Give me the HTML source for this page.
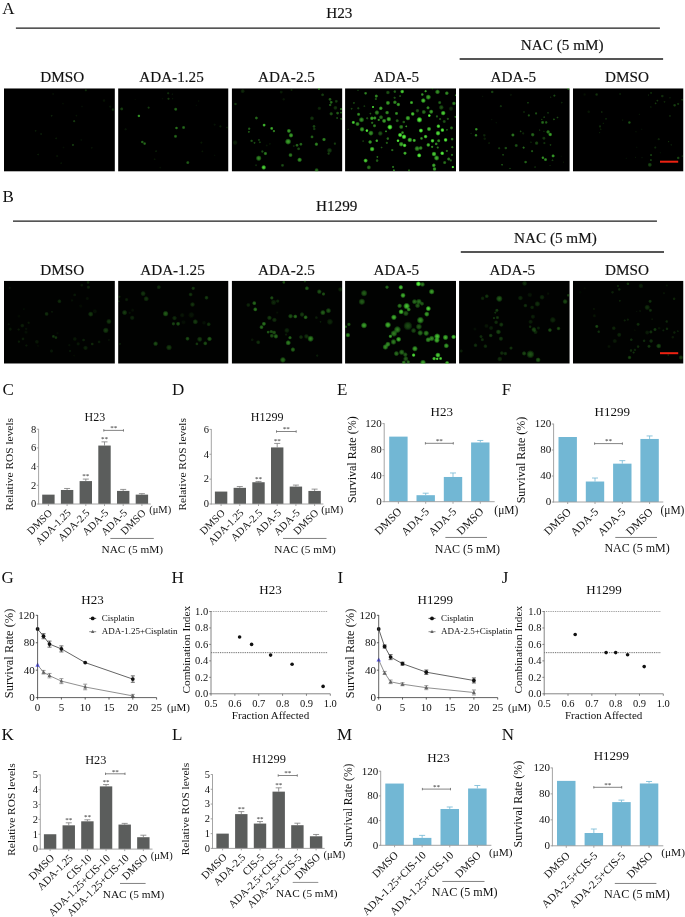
<!DOCTYPE html>
<html lang="en"><head><meta charset="utf-8"><title>Figure</title>
<style>html,body{margin:0;padding:0;background:#fff}svg{display:block}text{font-family:'Liberation Serif', 'Times New Roman', serif}.hd{stroke:#111;stroke-width:0.15px}</style>
</head><body>
<svg width="685" height="917" viewBox="0 0 685 917">
<defs><filter id="bl" x="-5%" y="-5%" width="110%" height="110%"><feGaussianBlur stdDeviation="0.5"/></filter><radialGradient id="g"><stop offset="0" stop-color="#6cff48"/><stop offset="0.5" stop-color="#48dc34" stop-opacity="0.92"/><stop offset="0.8" stop-color="#38c02a" stop-opacity="0.45"/><stop offset="1" stop-color="#2ca024" stop-opacity="0"/></radialGradient></defs>
<rect x="0.00" y="0.00" width="685.00" height="917.00" fill="#fff"/>
<text x="2.20" y="13.90" font-size="17" text-anchor="start" fill="#111">A</text>
<text x="2.40" y="202.40" font-size="17" text-anchor="start" fill="#111">B</text>
<text x="2.40" y="395.40" font-size="17" text-anchor="start" fill="#111">C</text>
<text x="171.90" y="395.40" font-size="17" text-anchor="start" fill="#111">D</text>
<text x="336.90" y="395.40" font-size="17" text-anchor="start" fill="#111">E</text>
<text x="501.70" y="395.40" font-size="17" text-anchor="start" fill="#111">F</text>
<text x="1.40" y="583.40" font-size="17" text-anchor="start" fill="#111">G</text>
<text x="171.40" y="583.40" font-size="17" text-anchor="start" fill="#111">H</text>
<text x="337.40" y="583.40" font-size="17" text-anchor="start" fill="#111">I</text>
<text x="501.70" y="583.40" font-size="17" text-anchor="start" fill="#111">J</text>
<text x="1.40" y="739.70" font-size="17" text-anchor="start" fill="#111">K</text>
<text x="172.10" y="739.70" font-size="17" text-anchor="start" fill="#111">L</text>
<text x="337.00" y="739.70" font-size="17" text-anchor="start" fill="#111">M</text>
<text x="501.70" y="739.70" font-size="17" text-anchor="start" fill="#111">N</text>
<text x="339.30" y="18.10" font-size="15.2" text-anchor="middle" fill="#111" class="hd">H23</text>
<line x1="15.90" y1="28.10" x2="659.90" y2="28.10" stroke="#1c1c1c" stroke-width="1.3"/>
<text x="562.20" y="49.50" font-size="15.2" text-anchor="middle" fill="#111" class="hd">NAC (5 mM)</text>
<line x1="459.65" y1="59.00" x2="663.10" y2="59.00" stroke="#1c1c1c" stroke-width="1.5"/>
<text x="62.20" y="82.00" font-size="15.2" text-anchor="middle" fill="#111" class="hd">DMSO</text>
<text x="171.50" y="82.00" font-size="15.2" text-anchor="middle" fill="#111" class="hd">ADA-1.25</text>
<text x="286.40" y="82.00" font-size="15.2" text-anchor="middle" fill="#111" class="hd">ADA-2.5</text>
<text x="396.40" y="82.00" font-size="15.2" text-anchor="middle" fill="#111" class="hd">ADA-5</text>
<text x="513.30" y="82.00" font-size="15.2" text-anchor="middle" fill="#111" class="hd">ADA-5</text>
<text x="627.00" y="82.00" font-size="15.2" text-anchor="middle" fill="#111" class="hd">DMSO</text>
<text x="336.70" y="210.90" font-size="15.2" text-anchor="middle" fill="#111" class="hd">H1299</text>
<line x1="13.00" y1="221.15" x2="656.95" y2="221.15" stroke="#1c1c1c" stroke-width="1.3"/>
<text x="555.40" y="243.10" font-size="15.2" text-anchor="middle" fill="#111" class="hd">NAC (5 mM)</text>
<line x1="460.80" y1="251.90" x2="664.00" y2="251.90" stroke="#1c1c1c" stroke-width="1.5"/>
<text x="62.20" y="274.50" font-size="15.2" text-anchor="middle" fill="#111" class="hd">DMSO</text>
<text x="172.50" y="274.50" font-size="15.2" text-anchor="middle" fill="#111" class="hd">ADA-1.25</text>
<text x="286.40" y="274.50" font-size="15.2" text-anchor="middle" fill="#111" class="hd">ADA-2.5</text>
<text x="396.40" y="274.50" font-size="15.2" text-anchor="middle" fill="#111" class="hd">ADA-5</text>
<text x="512.30" y="274.50" font-size="15.2" text-anchor="middle" fill="#111" class="hd">ADA-5</text>
<text x="627.00" y="274.50" font-size="15.2" text-anchor="middle" fill="#111" class="hd">DMSO</text>
<svg x="4.00" y="88.30" width="110.90" height="83.30" viewBox="4.00 88.30 110.90 83.30" overflow="hidden">
<rect x="4.00" y="88.30" width="110.90" height="83.30" fill="#000"/>
<g filter="url(#bl)">
<circle cx="85.8" cy="90.3" r="1.53" fill="url(#g)" fill-opacity="0.17"/>
<circle cx="112.9" cy="109.6" r="1.75" fill="url(#g)" fill-opacity="0.17"/>
<circle cx="74.2" cy="121.2" r="1.53" fill="url(#g)" fill-opacity="0.24"/>
<circle cx="72.9" cy="144.9" r="1.53" fill="url(#g)" fill-opacity="0.24"/>
<circle cx="51.6" cy="115.7" r="1.31" fill="url(#g)" fill-opacity="0.14"/>
<circle cx="35.6" cy="130.8" r="1.31" fill="url(#g)" fill-opacity="0.11"/>
<circle cx="41.1" cy="134.0" r="1.31" fill="url(#g)" fill-opacity="0.11"/>
<circle cx="56.2" cy="138.4" r="1.31" fill="url(#g)" fill-opacity="0.11"/>
<circle cx="38.2" cy="154.5" r="1.31" fill="url(#g)" fill-opacity="0.11"/>
<circle cx="57.2" cy="156.1" r="1.53" fill="url(#g)" fill-opacity="0.08"/>
<circle cx="61.2" cy="163.2" r="1.31" fill="url(#g)" fill-opacity="0.08"/>
<circle cx="91.7" cy="147.8" r="1.31" fill="url(#g)" fill-opacity="0.08"/>
<circle cx="81.3" cy="139.9" r="1.31" fill="url(#g)" fill-opacity="0.06"/>
<circle cx="104.0" cy="100.6" r="1.75" fill="url(#g)" fill-opacity="0.08"/>
<circle cx="110.2" cy="106.6" r="1.53" fill="url(#g)" fill-opacity="0.08"/>
<circle cx="53.1" cy="94.0" r="1.31" fill="url(#g)" fill-opacity="0.06"/>
<circle cx="76.4" cy="115.6" r="1.31" fill="url(#g)" fill-opacity="0.08"/>
<circle cx="82.0" cy="106.5" r="1.31" fill="url(#g)" fill-opacity="0.05"/>
<circle cx="63.0" cy="103.6" r="1.31" fill="url(#g)" fill-opacity="0.05"/>
<circle cx="63.5" cy="147.5" r="1.31" fill="url(#g)" fill-opacity="0.05"/>
</g>
</svg>
<svg x="118.10" y="88.30" width="110.40" height="83.30" viewBox="118.10 88.30 110.40 83.30" overflow="hidden">
<rect x="118.10" y="88.30" width="110.40" height="83.30" fill="#000"/>
<g filter="url(#bl)">
<circle cx="138.9" cy="115.9" r="1.75" fill="url(#g)" fill-opacity="0.64"/>
<circle cx="175.7" cy="109.2" r="1.97" fill="url(#g)" fill-opacity="0.41"/>
<circle cx="176.5" cy="128.0" r="1.75" fill="url(#g)" fill-opacity="0.49"/>
<circle cx="183.6" cy="127.5" r="1.97" fill="url(#g)" fill-opacity="0.41"/>
<circle cx="175.5" cy="136.3" r="1.97" fill="url(#g)" fill-opacity="0.41"/>
<circle cx="142.3" cy="142.0" r="1.75" fill="url(#g)" fill-opacity="0.41"/>
<circle cx="144.6" cy="143.6" r="1.75" fill="url(#g)" fill-opacity="0.41"/>
<circle cx="187.8" cy="162.6" r="1.97" fill="url(#g)" fill-opacity="0.37"/>
<circle cx="121.7" cy="108.9" r="1.97" fill="url(#g)" fill-opacity="0.26"/>
<circle cx="148.6" cy="107.6" r="1.53" fill="url(#g)" fill-opacity="0.23"/>
<circle cx="168.2" cy="93.3" r="1.53" fill="url(#g)" fill-opacity="0.19"/>
<circle cx="168.5" cy="98.7" r="1.53" fill="url(#g)" fill-opacity="0.23"/>
<circle cx="172.3" cy="94.2" r="1.09" fill="url(#g)" fill-opacity="0.09"/>
<circle cx="172.6" cy="98.7" r="1.09" fill="url(#g)" fill-opacity="0.09"/>
<circle cx="156.1" cy="151.2" r="1.31" fill="url(#g)" fill-opacity="0.12"/>
<circle cx="154.6" cy="159.3" r="1.31" fill="url(#g)" fill-opacity="0.09"/>
<circle cx="201.4" cy="142.6" r="1.53" fill="url(#g)" fill-opacity="0.09"/>
<circle cx="202.4" cy="151.4" r="1.31" fill="url(#g)" fill-opacity="0.09"/>
<circle cx="220.4" cy="126.4" r="1.53" fill="url(#g)" fill-opacity="0.12"/>
<circle cx="214.6" cy="124.6" r="1.53" fill="url(#g)" fill-opacity="0.07"/>
<circle cx="227.0" cy="127.5" r="1.31" fill="url(#g)" fill-opacity="0.12"/>
<circle cx="125.6" cy="129.3" r="1.53" fill="url(#g)" fill-opacity="0.09"/>
<circle cx="214.7" cy="155.3" r="1.09" fill="url(#g)" fill-opacity="0.06"/>
<circle cx="160.3" cy="167.6" r="1.31" fill="url(#g)" fill-opacity="0.06"/>
<circle cx="196.3" cy="105.3" r="1.09" fill="url(#g)" fill-opacity="0.06"/>
<circle cx="198.7" cy="101.0" r="1.09" fill="url(#g)" fill-opacity="0.06"/>
<circle cx="135.2" cy="99.5" r="1.09" fill="url(#g)" fill-opacity="0.04"/>
<circle cx="162.5" cy="98.7" r="1.09" fill="url(#g)" fill-opacity="0.06"/>
</g>
</svg>
<svg x="231.70" y="88.30" width="110.70" height="83.30" viewBox="231.70 88.30 110.70 83.30" overflow="hidden">
<rect x="231.70" y="88.30" width="110.70" height="83.30" fill="#000"/>
<g filter="url(#bl)">
<circle cx="264.1" cy="125.1" r="1.89" fill="url(#g)" fill-opacity="0.79"/>
<circle cx="271.7" cy="128.4" r="1.89" fill="url(#g)" fill-opacity="0.69"/>
<circle cx="273.9" cy="131.1" r="1.65" fill="url(#g)" fill-opacity="0.54"/>
<circle cx="256.4" cy="118.0" r="1.89" fill="url(#g)" fill-opacity="0.44"/>
<circle cx="249.2" cy="128.7" r="1.65" fill="url(#g)" fill-opacity="0.39"/>
<circle cx="248.8" cy="131.8" r="1.42" fill="url(#g)" fill-opacity="0.35"/>
<circle cx="288.9" cy="130.9" r="2.36" fill="url(#g)" fill-opacity="0.64"/>
<circle cx="291.0" cy="135.3" r="2.60" fill="url(#g)" fill-opacity="0.64"/>
<circle cx="288.1" cy="141.6" r="3.31" fill="url(#g)" fill-opacity="0.64"/>
<circle cx="297.0" cy="145.2" r="1.89" fill="url(#g)" fill-opacity="0.44"/>
<circle cx="300.9" cy="144.2" r="1.89" fill="url(#g)" fill-opacity="0.44"/>
<circle cx="298.6" cy="148.8" r="1.89" fill="url(#g)" fill-opacity="0.30"/>
<circle cx="290.5" cy="155.1" r="2.36" fill="url(#g)" fill-opacity="0.49"/>
<circle cx="299.6" cy="159.8" r="2.60" fill="url(#g)" fill-opacity="0.59"/>
<circle cx="263.7" cy="167.4" r="2.60" fill="url(#g)" fill-opacity="0.85"/>
<circle cx="258.7" cy="158.2" r="3.07" fill="url(#g)" fill-opacity="0.54"/>
<circle cx="265.4" cy="153.5" r="2.13" fill="url(#g)" fill-opacity="0.49"/>
<circle cx="262.4" cy="151.5" r="1.65" fill="url(#g)" fill-opacity="0.30"/>
<circle cx="251.6" cy="140.8" r="1.65" fill="url(#g)" fill-opacity="0.35"/>
<circle cx="254.5" cy="142.8" r="1.42" fill="url(#g)" fill-opacity="0.30"/>
<circle cx="258.9" cy="139.9" r="1.42" fill="url(#g)" fill-opacity="0.25"/>
<circle cx="259.8" cy="142.3" r="1.42" fill="url(#g)" fill-opacity="0.25"/>
<circle cx="282.5" cy="165.3" r="1.89" fill="url(#g)" fill-opacity="0.30"/>
<circle cx="312.0" cy="136.9" r="1.89" fill="url(#g)" fill-opacity="0.44"/>
<circle cx="316.4" cy="144.2" r="2.13" fill="url(#g)" fill-opacity="0.54"/>
<circle cx="324.0" cy="139.5" r="2.13" fill="url(#g)" fill-opacity="0.54"/>
<circle cx="314.0" cy="126.4" r="1.89" fill="url(#g)" fill-opacity="0.30"/>
<circle cx="314.3" cy="129.0" r="1.65" fill="url(#g)" fill-opacity="0.25"/>
<circle cx="312.0" cy="118.3" r="2.36" fill="url(#g)" fill-opacity="0.21"/>
<circle cx="330.0" cy="99.3" r="1.89" fill="url(#g)" fill-opacity="0.39"/>
<circle cx="331.2" cy="102.3" r="1.89" fill="url(#g)" fill-opacity="0.44"/>
<circle cx="330.2" cy="105.0" r="1.65" fill="url(#g)" fill-opacity="0.39"/>
<circle cx="322.6" cy="94.8" r="1.89" fill="url(#g)" fill-opacity="0.25"/>
<circle cx="319.0" cy="88.6" r="1.65" fill="url(#g)" fill-opacity="0.54"/>
<circle cx="336.3" cy="101.3" r="1.89" fill="url(#g)" fill-opacity="0.25"/>
<circle cx="331.2" cy="113.8" r="2.13" fill="url(#g)" fill-opacity="0.35"/>
<circle cx="337.6" cy="113.1" r="1.89" fill="url(#g)" fill-opacity="0.39"/>
<circle cx="341.0" cy="109.1" r="1.65" fill="url(#g)" fill-opacity="0.44"/>
<circle cx="341.0" cy="112.6" r="1.42" fill="url(#g)" fill-opacity="0.39"/>
<circle cx="337.2" cy="118.0" r="1.42" fill="url(#g)" fill-opacity="0.30"/>
<circle cx="341.2" cy="118.8" r="1.42" fill="url(#g)" fill-opacity="0.30"/>
<circle cx="335.4" cy="107.8" r="2.36" fill="url(#g)" fill-opacity="0.21"/>
<circle cx="319.3" cy="108.3" r="2.13" fill="url(#g)" fill-opacity="0.16"/>
<circle cx="334.9" cy="143.6" r="1.65" fill="url(#g)" fill-opacity="0.25"/>
<circle cx="329.5" cy="150.4" r="2.84" fill="url(#g)" fill-opacity="0.25"/>
<circle cx="328.6" cy="153.6" r="1.65" fill="url(#g)" fill-opacity="0.25"/>
<circle cx="316.6" cy="170.2" r="2.36" fill="url(#g)" fill-opacity="0.44"/>
<circle cx="235.5" cy="104.0" r="1.65" fill="url(#g)" fill-opacity="0.25"/>
<circle cx="242.7" cy="91.2" r="2.36" fill="url(#g)" fill-opacity="0.16"/>
<circle cx="235.1" cy="142.6" r="2.84" fill="url(#g)" fill-opacity="0.12"/>
<circle cx="256.1" cy="165.3" r="1.42" fill="url(#g)" fill-opacity="0.16"/>
<circle cx="281.2" cy="92.1" r="1.89" fill="url(#g)" fill-opacity="0.12"/>
<circle cx="291.5" cy="89.9" r="1.42" fill="url(#g)" fill-opacity="0.16"/>
<circle cx="283.7" cy="99.3" r="1.65" fill="url(#g)" fill-opacity="0.09"/>
<circle cx="293.7" cy="146.0" r="1.42" fill="url(#g)" fill-opacity="0.16"/>
<circle cx="266.7" cy="145.5" r="1.42" fill="url(#g)" fill-opacity="0.08"/>
<circle cx="269.9" cy="143.9" r="1.18" fill="url(#g)" fill-opacity="0.08"/>
</g>
</svg>
<svg x="345.05" y="88.30" width="110.95" height="83.30" viewBox="345.05 88.30 110.95 83.30" overflow="hidden">
<rect x="345.05" y="88.30" width="110.95" height="83.30" fill="#000"/>
<g filter="url(#bl)">
<circle cx="365.6" cy="93.3" r="1.79" fill="url(#g)" fill-opacity="0.52"/>
<circle cx="376.3" cy="96.1" r="2.01" fill="url(#g)" fill-opacity="0.58"/>
<circle cx="375.8" cy="99.0" r="1.56" fill="url(#g)" fill-opacity="0.33"/>
<circle cx="387.9" cy="92.5" r="2.23" fill="url(#g)" fill-opacity="0.33"/>
<circle cx="394.8" cy="91.6" r="1.79" fill="url(#g)" fill-opacity="0.39"/>
<circle cx="402.2" cy="91.6" r="2.23" fill="url(#g)" fill-opacity="0.84"/>
<circle cx="394.6" cy="97.7" r="1.56" fill="url(#g)" fill-opacity="0.33"/>
<circle cx="400.1" cy="96.1" r="1.34" fill="url(#g)" fill-opacity="0.33"/>
<circle cx="387.9" cy="102.9" r="2.45" fill="url(#g)" fill-opacity="0.65"/>
<circle cx="394.9" cy="102.3" r="2.23" fill="url(#g)" fill-opacity="0.58"/>
<circle cx="398.3" cy="104.5" r="2.23" fill="url(#g)" fill-opacity="0.65"/>
<circle cx="411.5" cy="102.6" r="2.01" fill="url(#g)" fill-opacity="0.71"/>
<circle cx="373.0" cy="107.0" r="1.56" fill="url(#g)" fill-opacity="0.84"/>
<circle cx="380.8" cy="108.3" r="2.23" fill="url(#g)" fill-opacity="0.71"/>
<circle cx="358.6" cy="114.3" r="2.01" fill="url(#g)" fill-opacity="0.58"/>
<circle cx="370.4" cy="113.6" r="1.34" fill="url(#g)" fill-opacity="0.33"/>
<circle cx="376.9" cy="112.6" r="2.68" fill="url(#g)" fill-opacity="0.52"/>
<circle cx="387.1" cy="112.6" r="2.23" fill="url(#g)" fill-opacity="0.58"/>
<circle cx="396.5" cy="113.4" r="2.01" fill="url(#g)" fill-opacity="0.58"/>
<circle cx="371.9" cy="118.3" r="2.23" fill="url(#g)" fill-opacity="0.71"/>
<circle cx="374.8" cy="118.0" r="2.01" fill="url(#g)" fill-opacity="0.65"/>
<circle cx="381.0" cy="117.3" r="2.45" fill="url(#g)" fill-opacity="0.46"/>
<circle cx="378.7" cy="119.9" r="1.56" fill="url(#g)" fill-opacity="0.58"/>
<circle cx="384.1" cy="120.9" r="2.45" fill="url(#g)" fill-opacity="0.65"/>
<circle cx="388.8" cy="119.1" r="2.68" fill="url(#g)" fill-opacity="0.71"/>
<circle cx="361.5" cy="119.8" r="2.90" fill="url(#g)" fill-opacity="0.58"/>
<circle cx="353.3" cy="122.4" r="2.01" fill="url(#g)" fill-opacity="0.84"/>
<circle cx="357.5" cy="124.0" r="2.45" fill="url(#g)" fill-opacity="0.58"/>
<circle cx="372.2" cy="122.7" r="1.56" fill="url(#g)" fill-opacity="0.46"/>
<circle cx="374.5" cy="125.8" r="2.01" fill="url(#g)" fill-opacity="0.52"/>
<circle cx="362.0" cy="129.3" r="2.68" fill="url(#g)" fill-opacity="0.65"/>
<circle cx="366.9" cy="130.6" r="1.79" fill="url(#g)" fill-opacity="1.00"/>
<circle cx="370.9" cy="133.1" r="2.90" fill="url(#g)" fill-opacity="0.58"/>
<circle cx="380.3" cy="133.4" r="2.68" fill="url(#g)" fill-opacity="0.33"/>
<circle cx="386.0" cy="131.4" r="1.34" fill="url(#g)" fill-opacity="0.58"/>
<circle cx="389.9" cy="127.1" r="2.90" fill="url(#g)" fill-opacity="1.00"/>
<circle cx="397.2" cy="120.7" r="2.01" fill="url(#g)" fill-opacity="0.39"/>
<circle cx="403.8" cy="122.0" r="1.79" fill="url(#g)" fill-opacity="0.39"/>
<circle cx="407.9" cy="118.1" r="2.68" fill="url(#g)" fill-opacity="0.71"/>
<circle cx="412.7" cy="113.9" r="2.23" fill="url(#g)" fill-opacity="0.84"/>
<circle cx="419.4" cy="119.8" r="3.12" fill="url(#g)" fill-opacity="0.98"/>
<circle cx="401.2" cy="126.9" r="2.45" fill="url(#g)" fill-opacity="0.52"/>
<circle cx="406.3" cy="126.4" r="1.34" fill="url(#g)" fill-opacity="0.58"/>
<circle cx="400.1" cy="135.0" r="2.45" fill="url(#g)" fill-opacity="1.00"/>
<circle cx="404.0" cy="136.8" r="2.68" fill="url(#g)" fill-opacity="1.00"/>
<circle cx="402.5" cy="132.6" r="1.79" fill="url(#g)" fill-opacity="0.58"/>
<circle cx="398.0" cy="140.7" r="1.79" fill="url(#g)" fill-opacity="1.00"/>
<circle cx="401.2" cy="144.2" r="2.68" fill="url(#g)" fill-opacity="0.71"/>
<circle cx="404.6" cy="145.4" r="2.23" fill="url(#g)" fill-opacity="0.91"/>
<circle cx="409.8" cy="139.9" r="2.68" fill="url(#g)" fill-opacity="0.78"/>
<circle cx="414.2" cy="140.4" r="2.01" fill="url(#g)" fill-opacity="0.78"/>
<circle cx="420.9" cy="130.6" r="2.45" fill="url(#g)" fill-opacity="1.00"/>
<circle cx="421.5" cy="138.4" r="1.79" fill="url(#g)" fill-opacity="0.58"/>
<circle cx="425.6" cy="136.6" r="2.23" fill="url(#g)" fill-opacity="0.84"/>
<circle cx="429.0" cy="129.0" r="2.45" fill="url(#g)" fill-opacity="0.78"/>
<circle cx="438.4" cy="126.2" r="2.23" fill="url(#g)" fill-opacity="0.91"/>
<circle cx="442.4" cy="130.1" r="2.23" fill="url(#g)" fill-opacity="0.98"/>
<circle cx="438.0" cy="133.2" r="2.68" fill="url(#g)" fill-opacity="0.91"/>
<circle cx="432.5" cy="140.8" r="2.23" fill="url(#g)" fill-opacity="0.91"/>
<circle cx="438.7" cy="140.8" r="2.01" fill="url(#g)" fill-opacity="0.58"/>
<circle cx="445.6" cy="139.9" r="2.23" fill="url(#g)" fill-opacity="0.98"/>
<circle cx="452.1" cy="139.1" r="1.79" fill="url(#g)" fill-opacity="0.52"/>
<circle cx="428.3" cy="144.9" r="2.23" fill="url(#g)" fill-opacity="0.78"/>
<circle cx="432.2" cy="146.8" r="1.56" fill="url(#g)" fill-opacity="0.58"/>
<circle cx="436.2" cy="143.9" r="1.79" fill="url(#g)" fill-opacity="0.58"/>
<circle cx="437.7" cy="147.5" r="1.56" fill="url(#g)" fill-opacity="0.46"/>
<circle cx="417.1" cy="148.6" r="2.90" fill="url(#g)" fill-opacity="0.58"/>
<circle cx="420.7" cy="148.0" r="2.23" fill="url(#g)" fill-opacity="0.58"/>
<circle cx="405.0" cy="153.2" r="2.01" fill="url(#g)" fill-opacity="0.78"/>
<circle cx="419.2" cy="155.4" r="2.45" fill="url(#g)" fill-opacity="1.00"/>
<circle cx="434.0" cy="154.0" r="2.68" fill="url(#g)" fill-opacity="0.84"/>
<circle cx="436.6" cy="158.0" r="2.90" fill="url(#g)" fill-opacity="0.71"/>
<circle cx="442.2" cy="153.3" r="2.23" fill="url(#g)" fill-opacity="1.00"/>
<circle cx="446.8" cy="150.9" r="1.56" fill="url(#g)" fill-opacity="0.46"/>
<circle cx="452.3" cy="147.2" r="1.56" fill="url(#g)" fill-opacity="0.46"/>
<circle cx="452.0" cy="154.8" r="1.56" fill="url(#g)" fill-opacity="0.46"/>
<circle cx="448.7" cy="159.0" r="2.01" fill="url(#g)" fill-opacity="0.52"/>
<circle cx="450.8" cy="160.4" r="1.56" fill="url(#g)" fill-opacity="0.39"/>
<circle cx="444.7" cy="162.6" r="2.01" fill="url(#g)" fill-opacity="0.46"/>
<circle cx="452.8" cy="167.1" r="1.56" fill="url(#g)" fill-opacity="1.00"/>
<circle cx="433.8" cy="165.3" r="2.23" fill="url(#g)" fill-opacity="0.71"/>
<circle cx="434.5" cy="169.0" r="2.23" fill="url(#g)" fill-opacity="0.65"/>
<circle cx="372.1" cy="149.1" r="2.68" fill="url(#g)" fill-opacity="0.84"/>
<circle cx="370.1" cy="142.0" r="2.23" fill="url(#g)" fill-opacity="0.65"/>
<circle cx="376.8" cy="140.7" r="1.79" fill="url(#g)" fill-opacity="0.71"/>
<circle cx="387.8" cy="138.6" r="1.79" fill="url(#g)" fill-opacity="0.46"/>
<circle cx="386.8" cy="142.8" r="1.56" fill="url(#g)" fill-opacity="0.39"/>
<circle cx="381.6" cy="147.5" r="1.34" fill="url(#g)" fill-opacity="0.33"/>
<circle cx="392.3" cy="150.1" r="1.56" fill="url(#g)" fill-opacity="0.46"/>
<circle cx="377.4" cy="156.9" r="1.34" fill="url(#g)" fill-opacity="0.46"/>
<circle cx="377.1" cy="160.6" r="1.79" fill="url(#g)" fill-opacity="0.39"/>
<circle cx="365.6" cy="160.6" r="2.45" fill="url(#g)" fill-opacity="0.84"/>
<circle cx="368.8" cy="167.4" r="2.45" fill="url(#g)" fill-opacity="0.46"/>
<circle cx="393.1" cy="166.9" r="1.56" fill="url(#g)" fill-opacity="0.46"/>
<circle cx="393.9" cy="170.3" r="1.34" fill="url(#g)" fill-opacity="0.58"/>
<circle cx="409.0" cy="170.3" r="1.34" fill="url(#g)" fill-opacity="0.46"/>
<circle cx="425.6" cy="91.2" r="1.56" fill="url(#g)" fill-opacity="0.65"/>
<circle cx="422.3" cy="94.5" r="1.79" fill="url(#g)" fill-opacity="0.58"/>
<circle cx="428.3" cy="97.1" r="2.90" fill="url(#g)" fill-opacity="0.65"/>
<circle cx="423.3" cy="100.6" r="2.68" fill="url(#g)" fill-opacity="0.78"/>
<circle cx="437.5" cy="91.9" r="2.68" fill="url(#g)" fill-opacity="0.58"/>
<circle cx="446.8" cy="93.2" r="2.23" fill="url(#g)" fill-opacity="0.58"/>
<circle cx="456.0" cy="95.3" r="1.34" fill="url(#g)" fill-opacity="0.58"/>
<circle cx="453.9" cy="103.4" r="2.23" fill="url(#g)" fill-opacity="0.52"/>
<circle cx="439.7" cy="102.6" r="2.01" fill="url(#g)" fill-opacity="0.39"/>
<circle cx="441.3" cy="107.4" r="2.68" fill="url(#g)" fill-opacity="0.33"/>
<circle cx="428.0" cy="107.8" r="2.01" fill="url(#g)" fill-opacity="0.58"/>
<circle cx="431.2" cy="111.7" r="2.45" fill="url(#g)" fill-opacity="0.65"/>
<circle cx="429.3" cy="115.6" r="1.79" fill="url(#g)" fill-opacity="1.00"/>
<circle cx="423.8" cy="112.0" r="2.45" fill="url(#g)" fill-opacity="0.46"/>
<circle cx="417.4" cy="110.7" r="2.23" fill="url(#g)" fill-opacity="0.33"/>
<circle cx="443.2" cy="113.1" r="2.68" fill="url(#g)" fill-opacity="0.84"/>
<circle cx="436.9" cy="116.4" r="1.56" fill="url(#g)" fill-opacity="0.39"/>
<circle cx="440.1" cy="119.1" r="1.56" fill="url(#g)" fill-opacity="0.33"/>
<circle cx="444.2" cy="121.5" r="2.01" fill="url(#g)" fill-opacity="0.33"/>
<circle cx="447.8" cy="118.8" r="1.56" fill="url(#g)" fill-opacity="0.33"/>
<circle cx="455.4" cy="116.8" r="1.34" fill="url(#g)" fill-opacity="0.46"/>
<circle cx="451.5" cy="127.9" r="2.01" fill="url(#g)" fill-opacity="0.46"/>
<circle cx="446.9" cy="129.8" r="1.34" fill="url(#g)" fill-opacity="0.33"/>
<circle cx="451.0" cy="108.7" r="2.68" fill="url(#g)" fill-opacity="0.16"/>
<circle cx="351.6" cy="108.7" r="1.34" fill="url(#g)" fill-opacity="0.27"/>
<circle cx="353.9" cy="102.9" r="1.34" fill="url(#g)" fill-opacity="0.27"/>
<circle cx="358.3" cy="108.3" r="1.56" fill="url(#g)" fill-opacity="0.27"/>
<circle cx="364.4" cy="106.2" r="1.34" fill="url(#g)" fill-opacity="0.21"/>
<circle cx="363.2" cy="141.2" r="1.34" fill="url(#g)" fill-opacity="0.21"/>
<circle cx="367.2" cy="118.3" r="1.56" fill="url(#g)" fill-opacity="0.33"/>
<circle cx="348.2" cy="129.3" r="1.12" fill="url(#g)" fill-opacity="0.21"/>
<circle cx="432.2" cy="88.6" r="1.12" fill="url(#g)" fill-opacity="0.46"/>
<circle cx="358.0" cy="90.3" r="1.12" fill="url(#g)" fill-opacity="0.21"/>
</g>
</svg>
<svg x="459.05" y="88.30" width="110.70" height="83.30" viewBox="459.05 88.30 110.70 83.30" overflow="hidden">
<rect x="459.05" y="88.30" width="110.70" height="83.30" fill="#000"/>
<g filter="url(#bl)">
<circle cx="476.3" cy="129.3" r="1.75" fill="url(#g)" fill-opacity="0.61"/>
<circle cx="476.0" cy="135.3" r="1.75" fill="url(#g)" fill-opacity="0.56"/>
<circle cx="512.9" cy="135.0" r="1.97" fill="url(#g)" fill-opacity="0.51"/>
<circle cx="532.7" cy="134.7" r="2.19" fill="url(#g)" fill-opacity="0.42"/>
<circle cx="548.1" cy="131.9" r="2.19" fill="url(#g)" fill-opacity="0.51"/>
<circle cx="550.2" cy="134.5" r="2.19" fill="url(#g)" fill-opacity="0.66"/>
<circle cx="542.6" cy="122.4" r="1.97" fill="url(#g)" fill-opacity="0.42"/>
<circle cx="546.2" cy="122.4" r="1.75" fill="url(#g)" fill-opacity="0.37"/>
<circle cx="542.9" cy="157.7" r="1.75" fill="url(#g)" fill-opacity="0.61"/>
<circle cx="545.5" cy="159.6" r="1.97" fill="url(#g)" fill-opacity="0.56"/>
<circle cx="553.1" cy="155.9" r="1.97" fill="url(#g)" fill-opacity="0.66"/>
<circle cx="525.6" cy="162.1" r="1.75" fill="url(#g)" fill-opacity="0.42"/>
<circle cx="516.2" cy="145.5" r="1.97" fill="url(#g)" fill-opacity="0.33"/>
<circle cx="523.6" cy="147.6" r="1.53" fill="url(#g)" fill-opacity="0.42"/>
<circle cx="532.1" cy="151.2" r="1.53" fill="url(#g)" fill-opacity="0.37"/>
<circle cx="536.6" cy="143.1" r="2.19" fill="url(#g)" fill-opacity="0.28"/>
<circle cx="543.9" cy="138.2" r="1.97" fill="url(#g)" fill-opacity="0.24"/>
<circle cx="544.4" cy="143.1" r="1.53" fill="url(#g)" fill-opacity="0.20"/>
<circle cx="550.5" cy="144.9" r="1.31" fill="url(#g)" fill-opacity="0.24"/>
<circle cx="505.8" cy="148.1" r="1.75" fill="url(#g)" fill-opacity="0.33"/>
<circle cx="499.2" cy="148.3" r="1.53" fill="url(#g)" fill-opacity="0.24"/>
<circle cx="503.1" cy="154.8" r="1.31" fill="url(#g)" fill-opacity="0.28"/>
<circle cx="502.1" cy="164.7" r="1.31" fill="url(#g)" fill-opacity="0.33"/>
<circle cx="510.0" cy="168.4" r="1.09" fill="url(#g)" fill-opacity="0.24"/>
<circle cx="535.1" cy="167.1" r="1.31" fill="url(#g)" fill-opacity="0.15"/>
<circle cx="552.5" cy="160.3" r="1.31" fill="url(#g)" fill-opacity="0.24"/>
<circle cx="492.2" cy="91.9" r="1.75" fill="url(#g)" fill-opacity="0.28"/>
<circle cx="500.8" cy="106.2" r="1.53" fill="url(#g)" fill-opacity="0.20"/>
<circle cx="527.9" cy="102.7" r="1.31" fill="url(#g)" fill-opacity="0.24"/>
<circle cx="524.0" cy="112.0" r="1.09" fill="url(#g)" fill-opacity="0.24"/>
<circle cx="528.8" cy="115.4" r="1.53" fill="url(#g)" fill-opacity="0.33"/>
<circle cx="536.1" cy="113.4" r="1.53" fill="url(#g)" fill-opacity="0.33"/>
<circle cx="548.0" cy="112.8" r="1.31" fill="url(#g)" fill-opacity="0.20"/>
<circle cx="544.2" cy="117.2" r="1.31" fill="url(#g)" fill-opacity="0.24"/>
<circle cx="541.8" cy="119.4" r="1.09" fill="url(#g)" fill-opacity="0.24"/>
<circle cx="553.9" cy="119.4" r="1.31" fill="url(#g)" fill-opacity="0.33"/>
<circle cx="557.5" cy="117.5" r="1.31" fill="url(#g)" fill-opacity="0.28"/>
<circle cx="554.4" cy="95.6" r="1.53" fill="url(#g)" fill-opacity="0.28"/>
<circle cx="550.7" cy="97.2" r="1.09" fill="url(#g)" fill-opacity="0.15"/>
<circle cx="561.7" cy="102.6" r="1.31" fill="url(#g)" fill-opacity="0.15"/>
<circle cx="520.6" cy="131.4" r="1.31" fill="url(#g)" fill-opacity="0.28"/>
<circle cx="523.2" cy="133.4" r="1.53" fill="url(#g)" fill-opacity="0.15"/>
<circle cx="539.7" cy="130.1" r="1.09" fill="url(#g)" fill-opacity="0.20"/>
<circle cx="543.9" cy="131.3" r="1.09" fill="url(#g)" fill-opacity="0.15"/>
<circle cx="484.3" cy="135.3" r="1.75" fill="url(#g)" fill-opacity="0.15"/>
<circle cx="484.7" cy="138.7" r="1.75" fill="url(#g)" fill-opacity="0.11"/>
<circle cx="489.1" cy="143.1" r="1.31" fill="url(#g)" fill-opacity="0.11"/>
<circle cx="471.1" cy="133.4" r="1.09" fill="url(#g)" fill-opacity="0.11"/>
<circle cx="568.2" cy="88.8" r="1.31" fill="url(#g)" fill-opacity="0.51"/>
<circle cx="510.8" cy="94.8" r="1.53" fill="url(#g)" fill-opacity="0.07"/>
<circle cx="482.6" cy="96.4" r="1.09" fill="url(#g)" fill-opacity="0.07"/>
<circle cx="496.2" cy="122.8" r="1.09" fill="url(#g)" fill-opacity="0.07"/>
<circle cx="491.7" cy="119.6" r="1.09" fill="url(#g)" fill-opacity="0.07"/>
<circle cx="550.1" cy="165.5" r="1.09" fill="url(#g)" fill-opacity="0.11"/>
<circle cx="563.5" cy="162.1" r="0.88" fill="url(#g)" fill-opacity="0.11"/>
<circle cx="561.1" cy="156.1" r="0.88" fill="url(#g)" fill-opacity="0.07"/>
<circle cx="530.9" cy="142.3" r="1.31" fill="url(#g)" fill-opacity="0.11"/>
</g>
</svg>
<svg x="572.90" y="88.30" width="110.60" height="83.30" viewBox="572.90 88.30 110.60 83.30" overflow="hidden">
<rect x="572.90" y="88.30" width="110.60" height="83.30" fill="#000"/>
<g filter="url(#bl)">
<circle cx="629.4" cy="122.5" r="1.75" fill="url(#g)" fill-opacity="0.33"/>
<circle cx="596.6" cy="94.5" r="1.75" fill="url(#g)" fill-opacity="0.19"/>
<circle cx="601.7" cy="112.0" r="1.31" fill="url(#g)" fill-opacity="0.15"/>
<circle cx="606.0" cy="118.8" r="1.31" fill="url(#g)" fill-opacity="0.15"/>
<circle cx="600.0" cy="126.4" r="1.53" fill="url(#g)" fill-opacity="0.19"/>
<circle cx="603.3" cy="123.3" r="1.09" fill="url(#g)" fill-opacity="0.12"/>
<circle cx="600.8" cy="129.2" r="1.09" fill="url(#g)" fill-opacity="0.12"/>
<circle cx="599.6" cy="132.6" r="1.09" fill="url(#g)" fill-opacity="0.12"/>
<circle cx="588.7" cy="111.8" r="1.75" fill="url(#g)" fill-opacity="0.09"/>
<circle cx="620.1" cy="94.0" r="1.31" fill="url(#g)" fill-opacity="0.12"/>
<circle cx="651.1" cy="92.9" r="1.31" fill="url(#g)" fill-opacity="0.19"/>
<circle cx="648.5" cy="95.1" r="1.09" fill="url(#g)" fill-opacity="0.12"/>
<circle cx="662.3" cy="96.1" r="1.75" fill="url(#g)" fill-opacity="0.19"/>
<circle cx="657.4" cy="100.6" r="1.31" fill="url(#g)" fill-opacity="0.22"/>
<circle cx="655.6" cy="103.4" r="1.31" fill="url(#g)" fill-opacity="0.22"/>
<circle cx="664.5" cy="101.8" r="1.31" fill="url(#g)" fill-opacity="0.15"/>
<circle cx="674.6" cy="105.3" r="1.75" fill="url(#g)" fill-opacity="0.26"/>
<circle cx="678.2" cy="103.9" r="1.53" fill="url(#g)" fill-opacity="0.22"/>
<circle cx="682.2" cy="99.7" r="1.31" fill="url(#g)" fill-opacity="0.22"/>
<circle cx="669.9" cy="115.9" r="1.31" fill="url(#g)" fill-opacity="0.15"/>
<circle cx="669.9" cy="97.7" r="1.31" fill="url(#g)" fill-opacity="0.09"/>
<circle cx="650.8" cy="107.0" r="1.31" fill="url(#g)" fill-opacity="0.09"/>
<circle cx="658.7" cy="139.2" r="1.53" fill="url(#g)" fill-opacity="0.15"/>
<circle cx="668.6" cy="141.6" r="1.09" fill="url(#g)" fill-opacity="0.19"/>
<circle cx="671.2" cy="144.9" r="1.09" fill="url(#g)" fill-opacity="0.12"/>
<circle cx="655.3" cy="147.5" r="1.53" fill="url(#g)" fill-opacity="0.15"/>
<circle cx="651.1" cy="155.1" r="1.53" fill="url(#g)" fill-opacity="0.26"/>
<circle cx="650.9" cy="160.1" r="1.31" fill="url(#g)" fill-opacity="0.26"/>
<circle cx="649.8" cy="164.8" r="2.41" fill="url(#g)" fill-opacity="0.29"/>
<circle cx="678.2" cy="157.9" r="1.75" fill="url(#g)" fill-opacity="0.29"/>
<circle cx="682.2" cy="156.1" r="1.09" fill="url(#g)" fill-opacity="0.19"/>
<circle cx="639.4" cy="114.4" r="1.09" fill="url(#g)" fill-opacity="0.09"/>
<circle cx="622.7" cy="120.1" r="1.09" fill="url(#g)" fill-opacity="0.09"/>
<circle cx="636.0" cy="131.8" r="1.09" fill="url(#g)" fill-opacity="0.06"/>
<circle cx="641.7" cy="129.3" r="1.09" fill="url(#g)" fill-opacity="0.06"/>
<circle cx="636.8" cy="147.3" r="1.09" fill="url(#g)" fill-opacity="0.06"/>
<circle cx="635.5" cy="157.4" r="1.09" fill="url(#g)" fill-opacity="0.09"/>
<circle cx="626.3" cy="158.3" r="1.09" fill="url(#g)" fill-opacity="0.06"/>
<circle cx="642.0" cy="157.7" r="1.09" fill="url(#g)" fill-opacity="0.06"/>
<circle cx="660.3" cy="152.8" r="1.09" fill="url(#g)" fill-opacity="0.06"/>
<circle cx="584.6" cy="94.5" r="1.75" fill="url(#g)" fill-opacity="0.06"/>
</g>
</svg>
<rect x="660.00" y="160.70" width="18.20" height="2.00" fill="#ee2212"/>
<svg x="4.00" y="280.70" width="110.90" height="82.95" viewBox="4.00 280.70 110.90 82.95" overflow="hidden">
<rect x="4.00" y="280.70" width="110.90" height="82.95" fill="#010201"/>
<g filter="url(#bl)">
<circle cx="46.6" cy="313.9" r="2.36" fill="url(#g)" fill-opacity="0.18"/>
<circle cx="59.4" cy="301.3" r="2.36" fill="url(#g)" fill-opacity="0.16"/>
<circle cx="90.7" cy="314.1" r="2.89" fill="url(#g)" fill-opacity="0.21"/>
<circle cx="108.9" cy="321.5" r="2.89" fill="url(#g)" fill-opacity="0.21"/>
<circle cx="105.8" cy="330.4" r="3.15" fill="url(#g)" fill-opacity="0.23"/>
<circle cx="53.4" cy="336.4" r="1.84" fill="url(#g)" fill-opacity="0.21"/>
<circle cx="55.9" cy="337.6" r="1.84" fill="url(#g)" fill-opacity="0.21"/>
<circle cx="88.1" cy="282.3" r="1.84" fill="url(#g)" fill-opacity="0.16"/>
<circle cx="88.4" cy="287.2" r="2.10" fill="url(#g)" fill-opacity="0.13"/>
<circle cx="81.8" cy="285.2" r="1.84" fill="url(#g)" fill-opacity="0.09"/>
<circle cx="74.7" cy="294.9" r="1.84" fill="url(#g)" fill-opacity="0.09"/>
<circle cx="72.1" cy="300.4" r="1.58" fill="url(#g)" fill-opacity="0.06"/>
<circle cx="87.3" cy="298.5" r="2.10" fill="url(#g)" fill-opacity="0.06"/>
<circle cx="94.9" cy="311.3" r="2.63" fill="url(#g)" fill-opacity="0.06"/>
<circle cx="52.0" cy="311.8" r="1.31" fill="url(#g)" fill-opacity="0.09"/>
<circle cx="22.3" cy="325.6" r="2.36" fill="url(#g)" fill-opacity="0.11"/>
<circle cx="28.6" cy="322.7" r="1.58" fill="url(#g)" fill-opacity="0.09"/>
<circle cx="18.6" cy="329.5" r="1.58" fill="url(#g)" fill-opacity="0.09"/>
<circle cx="10.2" cy="329.1" r="2.10" fill="url(#g)" fill-opacity="0.09"/>
<circle cx="8.7" cy="324.3" r="1.58" fill="url(#g)" fill-opacity="0.06"/>
<circle cx="26.2" cy="328.8" r="1.58" fill="url(#g)" fill-opacity="0.06"/>
<circle cx="26.0" cy="332.2" r="2.10" fill="url(#g)" fill-opacity="0.05"/>
<circle cx="23.0" cy="338.9" r="1.84" fill="url(#g)" fill-opacity="0.11"/>
<circle cx="18.9" cy="341.6" r="1.58" fill="url(#g)" fill-opacity="0.11"/>
<circle cx="26.4" cy="345.5" r="1.58" fill="url(#g)" fill-opacity="0.09"/>
<circle cx="36.9" cy="341.8" r="2.36" fill="url(#g)" fill-opacity="0.09"/>
<circle cx="51.5" cy="351.0" r="2.10" fill="url(#g)" fill-opacity="0.09"/>
<circle cx="70.1" cy="351.0" r="1.58" fill="url(#g)" fill-opacity="0.09"/>
<circle cx="69.3" cy="345.2" r="1.58" fill="url(#g)" fill-opacity="0.06"/>
<circle cx="74.8" cy="339.0" r="2.36" fill="url(#g)" fill-opacity="0.09"/>
<circle cx="83.6" cy="340.0" r="1.84" fill="url(#g)" fill-opacity="0.13"/>
<circle cx="78.2" cy="343.9" r="2.10" fill="url(#g)" fill-opacity="0.09"/>
<circle cx="85.5" cy="347.9" r="2.63" fill="url(#g)" fill-opacity="0.13"/>
<circle cx="92.2" cy="344.0" r="1.84" fill="url(#g)" fill-opacity="0.16"/>
<circle cx="99.1" cy="341.9" r="1.84" fill="url(#g)" fill-opacity="0.11"/>
<circle cx="108.9" cy="340.0" r="1.31" fill="url(#g)" fill-opacity="0.06"/>
<circle cx="9.7" cy="287.8" r="1.58" fill="url(#g)" fill-opacity="0.06"/>
<circle cx="23.9" cy="309.2" r="1.58" fill="url(#g)" fill-opacity="0.04"/>
<circle cx="18.9" cy="316.2" r="1.84" fill="url(#g)" fill-opacity="0.04"/>
<circle cx="80.8" cy="306.1" r="2.10" fill="url(#g)" fill-opacity="0.04"/>
<circle cx="74.2" cy="355.6" r="1.31" fill="url(#g)" fill-opacity="0.04"/>
<circle cx="38.0" cy="345.8" r="1.31" fill="url(#g)" fill-opacity="0.04"/>
<circle cx="57.5" cy="333.2" r="1.58" fill="url(#g)" fill-opacity="0.04"/>
</g>
</svg>
<svg x="118.10" y="280.70" width="110.40" height="82.95" viewBox="118.10 280.70 110.40 82.95" overflow="hidden">
<rect x="118.10" y="280.70" width="110.40" height="82.95" fill="#010201"/>
<g filter="url(#bl)">
<circle cx="165.6" cy="313.7" r="3.15" fill="url(#g)" fill-opacity="0.36"/>
<circle cx="178.1" cy="323.8" r="2.36" fill="url(#g)" fill-opacity="0.33"/>
<circle cx="173.4" cy="323.8" r="2.10" fill="url(#g)" fill-opacity="0.27"/>
<circle cx="174.5" cy="318.1" r="2.63" fill="url(#g)" fill-opacity="0.17"/>
<circle cx="155.6" cy="343.7" r="2.63" fill="url(#g)" fill-opacity="0.30"/>
<circle cx="169.0" cy="347.5" r="3.15" fill="url(#g)" fill-opacity="0.23"/>
<circle cx="187.5" cy="338.7" r="2.36" fill="url(#g)" fill-opacity="0.30"/>
<circle cx="199.7" cy="339.2" r="2.89" fill="url(#g)" fill-opacity="0.23"/>
<circle cx="209.5" cy="338.9" r="2.63" fill="url(#g)" fill-opacity="0.36"/>
<circle cx="205.3" cy="343.4" r="2.36" fill="url(#g)" fill-opacity="0.30"/>
<circle cx="196.9" cy="343.9" r="1.84" fill="url(#g)" fill-opacity="0.23"/>
<circle cx="195.3" cy="321.8" r="2.89" fill="url(#g)" fill-opacity="0.23"/>
<circle cx="208.7" cy="324.3" r="2.36" fill="url(#g)" fill-opacity="0.20"/>
<circle cx="192.5" cy="304.5" r="2.63" fill="url(#g)" fill-opacity="0.20"/>
<circle cx="206.5" cy="297.7" r="2.36" fill="url(#g)" fill-opacity="0.23"/>
<circle cx="193.2" cy="288.3" r="2.10" fill="url(#g)" fill-opacity="0.23"/>
<circle cx="190.6" cy="294.5" r="2.36" fill="url(#g)" fill-opacity="0.20"/>
<circle cx="158.8" cy="287.2" r="2.36" fill="url(#g)" fill-opacity="0.17"/>
<circle cx="143.1" cy="293.6" r="2.89" fill="url(#g)" fill-opacity="0.20"/>
<circle cx="146.2" cy="298.8" r="2.89" fill="url(#g)" fill-opacity="0.20"/>
<circle cx="124.6" cy="312.6" r="2.89" fill="url(#g)" fill-opacity="0.23"/>
<circle cx="132.2" cy="317.8" r="2.63" fill="url(#g)" fill-opacity="0.14"/>
<circle cx="126.6" cy="299.6" r="2.10" fill="url(#g)" fill-opacity="0.11"/>
<circle cx="132.6" cy="310.2" r="2.10" fill="url(#g)" fill-opacity="0.05"/>
<circle cx="119.4" cy="296.7" r="1.58" fill="url(#g)" fill-opacity="0.14"/>
<circle cx="118.6" cy="301.3" r="1.31" fill="url(#g)" fill-opacity="0.17"/>
<circle cx="119.8" cy="343.9" r="1.31" fill="url(#g)" fill-opacity="0.14"/>
<circle cx="182.2" cy="315.2" r="2.63" fill="url(#g)" fill-opacity="0.08"/>
<circle cx="191.4" cy="315.0" r="3.41" fill="url(#g)" fill-opacity="0.08"/>
<circle cx="183.5" cy="322.3" r="2.63" fill="url(#g)" fill-opacity="0.05"/>
<circle cx="204.0" cy="322.8" r="2.36" fill="url(#g)" fill-opacity="0.06"/>
<circle cx="129.6" cy="312.8" r="1.58" fill="url(#g)" fill-opacity="0.06"/>
</g>
</svg>
<svg x="231.70" y="280.70" width="110.70" height="82.95" viewBox="231.70 280.70 110.70 82.95" overflow="hidden">
<rect x="231.70" y="280.70" width="110.70" height="82.95" fill="#010201"/>
<g filter="url(#bl)">
<circle cx="254.3" cy="303.2" r="2.36" fill="url(#g)" fill-opacity="0.41"/>
<circle cx="255.3" cy="309.4" r="2.36" fill="url(#g)" fill-opacity="0.46"/>
<circle cx="248.3" cy="305.0" r="2.36" fill="url(#g)" fill-opacity="0.15"/>
<circle cx="271.8" cy="297.9" r="2.10" fill="url(#g)" fill-opacity="0.32"/>
<circle cx="273.6" cy="302.4" r="3.15" fill="url(#g)" fill-opacity="0.15"/>
<circle cx="277.7" cy="301.1" r="2.10" fill="url(#g)" fill-opacity="0.15"/>
<circle cx="283.8" cy="282.3" r="1.84" fill="url(#g)" fill-opacity="0.32"/>
<circle cx="304.9" cy="281.3" r="1.58" fill="url(#g)" fill-opacity="0.23"/>
<circle cx="306.9" cy="288.3" r="2.36" fill="url(#g)" fill-opacity="0.37"/>
<circle cx="319.3" cy="291.7" r="2.63" fill="url(#g)" fill-opacity="0.32"/>
<circle cx="323.5" cy="294.0" r="2.10" fill="url(#g)" fill-opacity="0.32"/>
<circle cx="340.4" cy="289.4" r="2.63" fill="url(#g)" fill-opacity="0.15"/>
<circle cx="328.4" cy="310.7" r="2.89" fill="url(#g)" fill-opacity="0.32"/>
<circle cx="322.9" cy="312.6" r="2.89" fill="url(#g)" fill-opacity="0.37"/>
<circle cx="329.9" cy="321.8" r="3.41" fill="url(#g)" fill-opacity="0.15"/>
<circle cx="316.4" cy="317.6" r="1.84" fill="url(#g)" fill-opacity="0.11"/>
<circle cx="320.5" cy="321.8" r="1.31" fill="url(#g)" fill-opacity="0.11"/>
<circle cx="290.5" cy="316.2" r="2.63" fill="url(#g)" fill-opacity="0.32"/>
<circle cx="295.3" cy="316.5" r="2.36" fill="url(#g)" fill-opacity="0.41"/>
<circle cx="302.0" cy="314.5" r="2.63" fill="url(#g)" fill-opacity="0.23"/>
<circle cx="305.6" cy="317.3" r="2.36" fill="url(#g)" fill-opacity="0.41"/>
<circle cx="269.4" cy="317.8" r="2.63" fill="url(#g)" fill-opacity="0.23"/>
<circle cx="274.4" cy="319.9" r="2.63" fill="url(#g)" fill-opacity="0.19"/>
<circle cx="263.9" cy="323.8" r="2.36" fill="url(#g)" fill-opacity="0.46"/>
<circle cx="261.5" cy="327.2" r="2.36" fill="url(#g)" fill-opacity="0.41"/>
<circle cx="268.1" cy="332.1" r="1.84" fill="url(#g)" fill-opacity="0.37"/>
<circle cx="271.2" cy="331.6" r="2.10" fill="url(#g)" fill-opacity="0.32"/>
<circle cx="274.1" cy="332.5" r="2.36" fill="url(#g)" fill-opacity="0.32"/>
<circle cx="271.8" cy="335.8" r="2.36" fill="url(#g)" fill-opacity="0.32"/>
<circle cx="275.9" cy="336.3" r="2.63" fill="url(#g)" fill-opacity="0.41"/>
<circle cx="286.9" cy="330.4" r="2.89" fill="url(#g)" fill-opacity="0.15"/>
<circle cx="286.1" cy="334.5" r="1.58" fill="url(#g)" fill-opacity="0.11"/>
<circle cx="290.0" cy="337.7" r="2.10" fill="url(#g)" fill-opacity="0.41"/>
<circle cx="288.2" cy="342.8" r="2.89" fill="url(#g)" fill-opacity="0.50"/>
<circle cx="292.9" cy="349.6" r="2.63" fill="url(#g)" fill-opacity="0.41"/>
<circle cx="282.9" cy="359.9" r="3.15" fill="url(#g)" fill-opacity="0.41"/>
<circle cx="310.6" cy="338.7" r="3.41" fill="url(#g)" fill-opacity="0.50"/>
<circle cx="306.4" cy="336.4" r="2.63" fill="url(#g)" fill-opacity="0.19"/>
<circle cx="301.0" cy="337.1" r="2.36" fill="url(#g)" fill-opacity="0.19"/>
<circle cx="258.2" cy="342.3" r="2.36" fill="url(#g)" fill-opacity="0.19"/>
<circle cx="252.2" cy="339.8" r="1.84" fill="url(#g)" fill-opacity="0.09"/>
<circle cx="317.2" cy="355.6" r="1.58" fill="url(#g)" fill-opacity="0.11"/>
<circle cx="277.2" cy="312.6" r="1.58" fill="url(#g)" fill-opacity="0.05"/>
</g>
</svg>
<svg x="345.05" y="280.70" width="110.95" height="82.95" viewBox="345.05 280.70 110.95 82.95" overflow="hidden">
<rect x="345.05" y="280.70" width="110.95" height="82.95" fill="#010201"/>
<g filter="url(#bl)">
<circle cx="418.4" cy="283.9" r="2.84" fill="url(#g)" fill-opacity="1.00"/>
<circle cx="422.5" cy="284.4" r="2.60" fill="url(#g)" fill-opacity="0.49"/>
<circle cx="400.8" cy="287.3" r="2.60" fill="url(#g)" fill-opacity="0.77"/>
<circle cx="403.0" cy="295.4" r="2.84" fill="url(#g)" fill-opacity="0.70"/>
<circle cx="431.7" cy="291.7" r="3.07" fill="url(#g)" fill-opacity="0.63"/>
<circle cx="387.0" cy="287.2" r="2.13" fill="url(#g)" fill-opacity="0.43"/>
<circle cx="364.1" cy="293.2" r="3.54" fill="url(#g)" fill-opacity="0.36"/>
<circle cx="361.9" cy="301.7" r="3.54" fill="url(#g)" fill-opacity="0.36"/>
<circle cx="399.6" cy="305.8" r="2.60" fill="url(#g)" fill-opacity="0.49"/>
<circle cx="406.6" cy="306.1" r="3.54" fill="url(#g)" fill-opacity="0.77"/>
<circle cx="408.7" cy="309.5" r="2.36" fill="url(#g)" fill-opacity="0.56"/>
<circle cx="401.1" cy="311.8" r="2.84" fill="url(#g)" fill-opacity="0.77"/>
<circle cx="405.9" cy="313.4" r="3.07" fill="url(#g)" fill-opacity="0.36"/>
<circle cx="414.5" cy="301.7" r="2.84" fill="url(#g)" fill-opacity="0.43"/>
<circle cx="418.9" cy="301.6" r="3.07" fill="url(#g)" fill-opacity="0.43"/>
<circle cx="417.6" cy="305.6" r="2.84" fill="url(#g)" fill-opacity="0.36"/>
<circle cx="422.0" cy="303.7" r="2.36" fill="url(#g)" fill-opacity="0.36"/>
<circle cx="428.3" cy="308.6" r="2.84" fill="url(#g)" fill-opacity="0.84"/>
<circle cx="426.8" cy="314.1" r="2.84" fill="url(#g)" fill-opacity="0.63"/>
<circle cx="393.9" cy="317.3" r="3.07" fill="url(#g)" fill-opacity="0.70"/>
<circle cx="387.9" cy="324.9" r="3.31" fill="url(#g)" fill-opacity="0.70"/>
<circle cx="364.0" cy="325.4" r="3.31" fill="url(#g)" fill-opacity="0.63"/>
<circle cx="348.9" cy="324.4" r="2.13" fill="url(#g)" fill-opacity="0.36"/>
<circle cx="345.8" cy="326.7" r="1.65" fill="url(#g)" fill-opacity="0.36"/>
<circle cx="347.9" cy="335.1" r="2.60" fill="url(#g)" fill-opacity="0.56"/>
<circle cx="420.4" cy="320.2" r="3.78" fill="url(#g)" fill-opacity="0.56"/>
<circle cx="418.9" cy="326.7" r="3.31" fill="url(#g)" fill-opacity="0.36"/>
<circle cx="407.9" cy="325.9" r="4.73" fill="url(#g)" fill-opacity="0.29"/>
<circle cx="413.6" cy="330.6" r="2.84" fill="url(#g)" fill-opacity="0.29"/>
<circle cx="420.2" cy="332.9" r="3.07" fill="url(#g)" fill-opacity="0.43"/>
<circle cx="426.2" cy="333.2" r="3.07" fill="url(#g)" fill-opacity="0.49"/>
<circle cx="397.4" cy="329.6" r="3.78" fill="url(#g)" fill-opacity="0.49"/>
<circle cx="393.9" cy="333.5" r="3.54" fill="url(#g)" fill-opacity="0.49"/>
<circle cx="390.4" cy="336.3" r="2.13" fill="url(#g)" fill-opacity="0.63"/>
<circle cx="398.6" cy="339.3" r="2.84" fill="url(#g)" fill-opacity="0.70"/>
<circle cx="393.5" cy="341.9" r="3.07" fill="url(#g)" fill-opacity="0.49"/>
<circle cx="387.9" cy="344.2" r="2.84" fill="url(#g)" fill-opacity="0.56"/>
<circle cx="385.4" cy="347.0" r="3.07" fill="url(#g)" fill-opacity="0.56"/>
<circle cx="428.1" cy="339.8" r="2.84" fill="url(#g)" fill-opacity="0.56"/>
<circle cx="431.7" cy="338.5" r="3.07" fill="url(#g)" fill-opacity="0.56"/>
<circle cx="437.2" cy="336.4" r="3.31" fill="url(#g)" fill-opacity="0.77"/>
<circle cx="436.9" cy="340.2" r="3.07" fill="url(#g)" fill-opacity="0.70"/>
<circle cx="445.5" cy="337.4" r="3.07" fill="url(#g)" fill-opacity="0.70"/>
<circle cx="453.6" cy="336.9" r="2.60" fill="url(#g)" fill-opacity="0.77"/>
<circle cx="446.3" cy="345.8" r="2.84" fill="url(#g)" fill-opacity="0.63"/>
<circle cx="414.9" cy="348.7" r="3.07" fill="url(#g)" fill-opacity="0.63"/>
<circle cx="413.6" cy="355.1" r="2.13" fill="url(#g)" fill-opacity="0.91"/>
<circle cx="396.4" cy="353.6" r="2.84" fill="url(#g)" fill-opacity="0.43"/>
<circle cx="401.7" cy="352.2" r="3.07" fill="url(#g)" fill-opacity="0.43"/>
<circle cx="405.3" cy="354.6" r="2.60" fill="url(#g)" fill-opacity="0.36"/>
<circle cx="405.8" cy="358.8" r="2.84" fill="url(#g)" fill-opacity="0.36"/>
<circle cx="403.8" cy="362.5" r="2.36" fill="url(#g)" fill-opacity="0.49"/>
<circle cx="408.2" cy="362.0" r="2.13" fill="url(#g)" fill-opacity="0.43"/>
<circle cx="423.0" cy="362.5" r="3.07" fill="url(#g)" fill-opacity="0.63"/>
<circle cx="437.9" cy="355.1" r="2.84" fill="url(#g)" fill-opacity="0.84"/>
<circle cx="434.1" cy="358.6" r="2.13" fill="url(#g)" fill-opacity="0.84"/>
<circle cx="437.2" cy="358.8" r="1.65" fill="url(#g)" fill-opacity="0.91"/>
<circle cx="440.6" cy="358.5" r="1.89" fill="url(#g)" fill-opacity="0.84"/>
<circle cx="447.1" cy="363.0" r="2.36" fill="url(#g)" fill-opacity="0.77"/>
</g>
</svg>
<svg x="459.05" y="280.70" width="110.70" height="82.95" viewBox="459.05 280.70 110.70 82.95" overflow="hidden">
<rect x="459.05" y="280.70" width="110.70" height="82.95" fill="#010201"/>
<g filter="url(#bl)">
<circle cx="499.3" cy="298.7" r="3.52" fill="url(#g)" fill-opacity="0.35"/>
<circle cx="486.8" cy="296.2" r="2.26" fill="url(#g)" fill-opacity="0.21"/>
<circle cx="482.6" cy="298.3" r="2.26" fill="url(#g)" fill-opacity="0.15"/>
<circle cx="524.6" cy="283.4" r="2.77" fill="url(#g)" fill-opacity="0.18"/>
<circle cx="520.4" cy="298.0" r="2.77" fill="url(#g)" fill-opacity="0.15"/>
<circle cx="529.8" cy="294.9" r="2.77" fill="url(#g)" fill-opacity="0.08"/>
<circle cx="542.0" cy="297.2" r="2.77" fill="url(#g)" fill-opacity="0.15"/>
<circle cx="537.4" cy="303.9" r="3.02" fill="url(#g)" fill-opacity="0.18"/>
<circle cx="525.4" cy="305.6" r="2.26" fill="url(#g)" fill-opacity="0.18"/>
<circle cx="532.1" cy="307.4" r="2.26" fill="url(#g)" fill-opacity="0.15"/>
<circle cx="565.1" cy="301.6" r="2.77" fill="url(#g)" fill-opacity="0.28"/>
<circle cx="568.2" cy="295.3" r="1.76" fill="url(#g)" fill-opacity="0.25"/>
<circle cx="496.9" cy="310.3" r="2.01" fill="url(#g)" fill-opacity="0.25"/>
<circle cx="495.3" cy="312.6" r="1.51" fill="url(#g)" fill-opacity="0.18"/>
<circle cx="494.0" cy="318.1" r="1.51" fill="url(#g)" fill-opacity="0.21"/>
<circle cx="497.4" cy="317.6" r="2.01" fill="url(#g)" fill-opacity="0.21"/>
<circle cx="496.1" cy="322.3" r="2.26" fill="url(#g)" fill-opacity="0.18"/>
<circle cx="501.3" cy="324.6" r="2.52" fill="url(#g)" fill-opacity="0.21"/>
<circle cx="491.1" cy="328.0" r="2.52" fill="url(#g)" fill-opacity="0.12"/>
<circle cx="486.4" cy="325.9" r="2.52" fill="url(#g)" fill-opacity="0.08"/>
<circle cx="498.4" cy="331.9" r="2.77" fill="url(#g)" fill-opacity="0.28"/>
<circle cx="490.7" cy="335.5" r="2.26" fill="url(#g)" fill-opacity="0.25"/>
<circle cx="500.9" cy="338.7" r="2.52" fill="url(#g)" fill-opacity="0.21"/>
<circle cx="481.0" cy="336.6" r="2.01" fill="url(#g)" fill-opacity="0.18"/>
<circle cx="482.3" cy="339.7" r="2.01" fill="url(#g)" fill-opacity="0.18"/>
<circle cx="475.5" cy="345.3" r="2.26" fill="url(#g)" fill-opacity="0.18"/>
<circle cx="485.4" cy="346.2" r="2.26" fill="url(#g)" fill-opacity="0.18"/>
<circle cx="474.9" cy="329.1" r="2.01" fill="url(#g)" fill-opacity="0.05"/>
<circle cx="511.0" cy="348.1" r="2.01" fill="url(#g)" fill-opacity="0.21"/>
<circle cx="501.8" cy="353.1" r="2.26" fill="url(#g)" fill-opacity="0.18"/>
<circle cx="505.3" cy="353.6" r="2.26" fill="url(#g)" fill-opacity="0.18"/>
<circle cx="499.8" cy="359.0" r="2.77" fill="url(#g)" fill-opacity="0.18"/>
<circle cx="524.1" cy="353.4" r="2.52" fill="url(#g)" fill-opacity="0.28"/>
<circle cx="530.4" cy="354.3" r="4.28" fill="url(#g)" fill-opacity="0.32"/>
<circle cx="538.1" cy="359.9" r="2.77" fill="url(#g)" fill-opacity="0.35"/>
<circle cx="532.9" cy="316.7" r="2.52" fill="url(#g)" fill-opacity="0.12"/>
<circle cx="530.6" cy="321.8" r="2.52" fill="url(#g)" fill-opacity="0.12"/>
<circle cx="530.1" cy="326.7" r="1.76" fill="url(#g)" fill-opacity="0.18"/>
<circle cx="533.9" cy="329.6" r="2.77" fill="url(#g)" fill-opacity="0.28"/>
<circle cx="535.5" cy="332.1" r="2.52" fill="url(#g)" fill-opacity="0.15"/>
<circle cx="538.4" cy="328.0" r="2.01" fill="url(#g)" fill-opacity="0.12"/>
<circle cx="549.9" cy="330.1" r="2.26" fill="url(#g)" fill-opacity="0.32"/>
<circle cx="558.5" cy="328.5" r="2.26" fill="url(#g)" fill-opacity="0.28"/>
<circle cx="552.8" cy="319.9" r="3.27" fill="url(#g)" fill-opacity="0.15"/>
<circle cx="461.2" cy="351.0" r="2.01" fill="url(#g)" fill-opacity="0.12"/>
<circle cx="548.1" cy="293.6" r="1.76" fill="url(#g)" fill-opacity="0.05"/>
</g>
</svg>
<svg x="572.90" y="280.70" width="110.60" height="82.95" viewBox="572.90 280.70 110.60 82.95" overflow="hidden">
<rect x="572.90" y="280.70" width="110.60" height="82.95" fill="#010201"/>
<g filter="url(#bl)">
<circle cx="627.9" cy="283.8" r="1.76" fill="url(#g)" fill-opacity="0.23"/>
<circle cx="617.9" cy="285.9" r="1.51" fill="url(#g)" fill-opacity="0.15"/>
<circle cx="619.3" cy="289.4" r="1.76" fill="url(#g)" fill-opacity="0.15"/>
<circle cx="640.9" cy="285.9" r="2.77" fill="url(#g)" fill-opacity="0.12"/>
<circle cx="612.5" cy="292.3" r="1.76" fill="url(#g)" fill-opacity="0.12"/>
<circle cx="619.8" cy="300.8" r="1.26" fill="url(#g)" fill-opacity="0.15"/>
<circle cx="650.1" cy="301.3" r="2.01" fill="url(#g)" fill-opacity="0.20"/>
<circle cx="647.2" cy="307.4" r="3.02" fill="url(#g)" fill-opacity="0.18"/>
<circle cx="650.4" cy="310.3" r="2.01" fill="url(#g)" fill-opacity="0.18"/>
<circle cx="674.1" cy="298.8" r="1.76" fill="url(#g)" fill-opacity="0.15"/>
<circle cx="663.9" cy="293.2" r="1.51" fill="url(#g)" fill-opacity="0.07"/>
<circle cx="666.8" cy="285.5" r="1.51" fill="url(#g)" fill-opacity="0.07"/>
<circle cx="596.8" cy="326.4" r="2.01" fill="url(#g)" fill-opacity="0.29"/>
<circle cx="598.7" cy="331.7" r="1.76" fill="url(#g)" fill-opacity="0.18"/>
<circle cx="594.4" cy="315.8" r="2.01" fill="url(#g)" fill-opacity="0.07"/>
<circle cx="593.9" cy="308.9" r="1.51" fill="url(#g)" fill-opacity="0.07"/>
<circle cx="613.8" cy="328.2" r="2.26" fill="url(#g)" fill-opacity="0.15"/>
<circle cx="619.2" cy="334.8" r="2.52" fill="url(#g)" fill-opacity="0.15"/>
<circle cx="614.8" cy="341.0" r="2.52" fill="url(#g)" fill-opacity="0.10"/>
<circle cx="609.0" cy="346.5" r="2.01" fill="url(#g)" fill-opacity="0.07"/>
<circle cx="624.7" cy="320.4" r="1.51" fill="url(#g)" fill-opacity="0.12"/>
<circle cx="627.8" cy="319.6" r="1.51" fill="url(#g)" fill-opacity="0.12"/>
<circle cx="638.1" cy="324.3" r="2.01" fill="url(#g)" fill-opacity="0.18"/>
<circle cx="631.3" cy="339.7" r="1.76" fill="url(#g)" fill-opacity="0.18"/>
<circle cx="644.1" cy="340.8" r="1.76" fill="url(#g)" fill-opacity="0.18"/>
<circle cx="651.1" cy="341.0" r="2.26" fill="url(#g)" fill-opacity="0.20"/>
<circle cx="650.9" cy="331.9" r="2.01" fill="url(#g)" fill-opacity="0.20"/>
<circle cx="655.0" cy="329.5" r="2.01" fill="url(#g)" fill-opacity="0.23"/>
<circle cx="647.2" cy="332.5" r="2.52" fill="url(#g)" fill-opacity="0.10"/>
<circle cx="649.0" cy="346.3" r="2.01" fill="url(#g)" fill-opacity="0.23"/>
<circle cx="658.7" cy="346.0" r="2.77" fill="url(#g)" fill-opacity="0.29"/>
<circle cx="638.1" cy="346.6" r="1.76" fill="url(#g)" fill-opacity="0.18"/>
<circle cx="631.0" cy="350.5" r="1.76" fill="url(#g)" fill-opacity="0.18"/>
<circle cx="634.9" cy="349.9" r="1.76" fill="url(#g)" fill-opacity="0.15"/>
<circle cx="633.6" cy="352.5" r="1.51" fill="url(#g)" fill-opacity="0.18"/>
<circle cx="629.5" cy="357.5" r="2.26" fill="url(#g)" fill-opacity="0.26"/>
<circle cx="666.7" cy="321.5" r="1.76" fill="url(#g)" fill-opacity="0.15"/>
<circle cx="667.0" cy="328.8" r="1.76" fill="url(#g)" fill-opacity="0.18"/>
<circle cx="663.4" cy="330.4" r="1.51" fill="url(#g)" fill-opacity="0.12"/>
<circle cx="659.2" cy="328.2" r="1.76" fill="url(#g)" fill-opacity="0.07"/>
<circle cx="674.4" cy="332.5" r="1.76" fill="url(#g)" fill-opacity="0.12"/>
<circle cx="677.8" cy="331.2" r="1.26" fill="url(#g)" fill-opacity="0.12"/>
<circle cx="672.8" cy="337.2" r="1.76" fill="url(#g)" fill-opacity="0.10"/>
<circle cx="680.9" cy="357.5" r="2.52" fill="url(#g)" fill-opacity="0.23"/>
<circle cx="668.3" cy="355.1" r="1.26" fill="url(#g)" fill-opacity="0.15"/>
<circle cx="640.1" cy="311.0" r="1.26" fill="url(#g)" fill-opacity="0.07"/>
<circle cx="636.8" cy="311.5" r="1.01" fill="url(#g)" fill-opacity="0.05"/>
<circle cx="652.1" cy="319.2" r="1.26" fill="url(#g)" fill-opacity="0.07"/>
<circle cx="634.7" cy="330.3" r="1.26" fill="url(#g)" fill-opacity="0.04"/>
<circle cx="584.6" cy="288.3" r="1.51" fill="url(#g)" fill-opacity="0.03"/>
<circle cx="580.1" cy="292.3" r="1.76" fill="url(#g)" fill-opacity="0.03"/>
</g>
</svg>
<rect x="660.00" y="352.20" width="18.20" height="2.00" fill="#ee2212"/>
<text x="94.90" y="420.80" font-size="12" text-anchor="middle" fill="#111">H23</text>
<rect x="42.20" y="494.65" width="12.40" height="9.35" fill="#5b5d5c"/>
<line x1="67.10" y1="489.98" x2="67.10" y2="488.48" stroke="#7a7a7a" stroke-width="0.8"/>
<line x1="64.10" y1="488.48" x2="70.10" y2="488.48" stroke="#7a7a7a" stroke-width="0.8"/>
<rect x="60.90" y="489.98" width="12.40" height="14.02" fill="#5b5d5c"/>
<line x1="85.80" y1="481.09" x2="85.80" y2="479.09" stroke="#7a7a7a" stroke-width="0.8"/>
<line x1="82.80" y1="479.09" x2="88.80" y2="479.09" stroke="#7a7a7a" stroke-width="0.8"/>
<rect x="79.60" y="481.09" width="12.40" height="22.91" fill="#5b5d5c"/>
<line x1="104.50" y1="445.56" x2="104.50" y2="441.86" stroke="#7a7a7a" stroke-width="0.8"/>
<line x1="101.50" y1="441.86" x2="107.50" y2="441.86" stroke="#7a7a7a" stroke-width="0.8"/>
<rect x="98.30" y="445.56" width="12.40" height="58.44" fill="#5b5d5c"/>
<line x1="123.20" y1="490.91" x2="123.20" y2="489.41" stroke="#7a7a7a" stroke-width="0.8"/>
<line x1="120.20" y1="489.41" x2="126.20" y2="489.41" stroke="#7a7a7a" stroke-width="0.8"/>
<rect x="117.00" y="490.91" width="12.40" height="13.09" fill="#5b5d5c"/>
<line x1="141.90" y1="494.65" x2="141.90" y2="493.65" stroke="#7a7a7a" stroke-width="0.8"/>
<line x1="138.90" y1="493.65" x2="144.90" y2="493.65" stroke="#7a7a7a" stroke-width="0.8"/>
<rect x="135.70" y="494.65" width="12.40" height="9.35" fill="#5b5d5c"/>
<line x1="38.60" y1="428.90" x2="38.60" y2="504.40" stroke="#9a9a9a" stroke-width="0.9"/>
<line x1="38.20" y1="504.00" x2="150.70" y2="504.00" stroke="#9a9a9a" stroke-width="0.9"/>
<line x1="36.80" y1="504.00" x2="38.60" y2="504.00" stroke="#9a9a9a" stroke-width="0.9"/>
<text x="36.20" y="507.31" font-size="10.5" text-anchor="end" fill="#111">0</text>
<line x1="36.80" y1="485.30" x2="38.60" y2="485.30" stroke="#9a9a9a" stroke-width="0.9"/>
<text x="36.20" y="488.61" font-size="10.5" text-anchor="end" fill="#111">2</text>
<line x1="36.80" y1="466.60" x2="38.60" y2="466.60" stroke="#9a9a9a" stroke-width="0.9"/>
<text x="36.20" y="469.91" font-size="10.5" text-anchor="end" fill="#111">4</text>
<line x1="36.80" y1="447.90" x2="38.60" y2="447.90" stroke="#9a9a9a" stroke-width="0.9"/>
<text x="36.20" y="451.21" font-size="10.5" text-anchor="end" fill="#111">6</text>
<line x1="36.80" y1="429.20" x2="38.60" y2="429.20" stroke="#9a9a9a" stroke-width="0.9"/>
<text x="36.20" y="432.51" font-size="10.5" text-anchor="end" fill="#111">8</text>
<line x1="48.40" y1="504.00" x2="48.40" y2="506.00" stroke="#9a9a9a" stroke-width="0.9"/>
<text x="52.90" y="513.60" font-size="10.6" text-anchor="end" fill="#111" transform="rotate(-45 52.90 513.60)">DMSO</text>
<line x1="67.10" y1="504.00" x2="67.10" y2="506.00" stroke="#9a9a9a" stroke-width="0.9"/>
<text x="71.60" y="513.60" font-size="10.6" text-anchor="end" fill="#111" transform="rotate(-45 71.60 513.60)">ADA-1.25</text>
<line x1="85.80" y1="504.00" x2="85.80" y2="506.00" stroke="#9a9a9a" stroke-width="0.9"/>
<text x="90.30" y="513.60" font-size="10.6" text-anchor="end" fill="#111" transform="rotate(-45 90.30 513.60)">ADA-2.5</text>
<line x1="104.50" y1="504.00" x2="104.50" y2="506.00" stroke="#9a9a9a" stroke-width="0.9"/>
<text x="109.00" y="513.60" font-size="10.6" text-anchor="end" fill="#111" transform="rotate(-45 109.00 513.60)">ADA-5</text>
<line x1="123.20" y1="504.00" x2="123.20" y2="506.00" stroke="#9a9a9a" stroke-width="0.9"/>
<text x="127.70" y="513.60" font-size="10.6" text-anchor="end" fill="#111" transform="rotate(-45 127.70 513.60)">ADA-5</text>
<line x1="141.90" y1="504.00" x2="141.90" y2="506.00" stroke="#9a9a9a" stroke-width="0.9"/>
<text x="146.40" y="513.60" font-size="10.6" text-anchor="end" fill="#111" transform="rotate(-45 146.40 513.60)">DMSO</text>
<text x="13.30" y="464.20" font-size="11.4" text-anchor="middle" fill="#111" transform="rotate(-90 13.30 464.20)">Relative ROS levels</text>
<text x="149.20" y="512.80" font-size="10.5" text-anchor="start" fill="#111">(μM)</text>
<line x1="103.80" y1="430.40" x2="123.50" y2="430.40" stroke="#666" stroke-width="0.8"/>
<line x1="103.80" y1="429.20" x2="103.80" y2="431.60" stroke="#666" stroke-width="0.8"/>
<line x1="123.50" y1="429.20" x2="123.50" y2="431.60" stroke="#666" stroke-width="0.8"/>
<text x="113.65" y="430.20" font-size="7" text-anchor="middle" fill="#222">**</text>
<text x="85.80" y="478.49" font-size="7" text-anchor="middle" fill="#222">**</text>
<text x="104.50" y="441.26" font-size="7" text-anchor="middle" fill="#222">**</text>
<line x1="110.40" y1="538.45" x2="153.80" y2="538.45" stroke="#555" stroke-width="0.75"/>
<text x="132.30" y="552.60" font-size="11.3" text-anchor="middle" fill="#111">NAC (5 mM)</text>
<text x="267.20" y="420.80" font-size="12" text-anchor="middle" fill="#111">H1299</text>
<rect x="214.90" y="491.57" width="12.40" height="12.43" fill="#5b5d5c"/>
<line x1="239.80" y1="487.84" x2="239.80" y2="486.54" stroke="#7a7a7a" stroke-width="0.8"/>
<line x1="236.80" y1="486.54" x2="242.80" y2="486.54" stroke="#7a7a7a" stroke-width="0.8"/>
<rect x="233.60" y="487.84" width="12.40" height="16.16" fill="#5b5d5c"/>
<line x1="258.50" y1="482.24" x2="258.50" y2="481.44" stroke="#7a7a7a" stroke-width="0.8"/>
<line x1="255.50" y1="481.44" x2="261.50" y2="481.44" stroke="#7a7a7a" stroke-width="0.8"/>
<rect x="252.30" y="482.24" width="12.40" height="21.76" fill="#5b5d5c"/>
<line x1="277.20" y1="447.43" x2="277.20" y2="443.43" stroke="#7a7a7a" stroke-width="0.8"/>
<line x1="274.20" y1="443.43" x2="280.20" y2="443.43" stroke="#7a7a7a" stroke-width="0.8"/>
<rect x="271.00" y="447.43" width="12.40" height="56.57" fill="#5b5d5c"/>
<line x1="295.90" y1="486.59" x2="295.90" y2="485.09" stroke="#7a7a7a" stroke-width="0.8"/>
<line x1="292.90" y1="485.09" x2="298.90" y2="485.09" stroke="#7a7a7a" stroke-width="0.8"/>
<rect x="289.70" y="486.59" width="12.40" height="17.41" fill="#5b5d5c"/>
<line x1="314.60" y1="490.94" x2="314.60" y2="489.14" stroke="#7a7a7a" stroke-width="0.8"/>
<line x1="311.60" y1="489.14" x2="317.60" y2="489.14" stroke="#7a7a7a" stroke-width="0.8"/>
<rect x="308.40" y="490.94" width="12.40" height="13.06" fill="#5b5d5c"/>
<line x1="211.30" y1="429.10" x2="211.30" y2="504.40" stroke="#9a9a9a" stroke-width="0.9"/>
<line x1="210.90" y1="504.00" x2="323.40" y2="504.00" stroke="#9a9a9a" stroke-width="0.9"/>
<line x1="209.50" y1="504.00" x2="211.30" y2="504.00" stroke="#9a9a9a" stroke-width="0.9"/>
<text x="208.90" y="507.31" font-size="10.5" text-anchor="end" fill="#111">0</text>
<line x1="209.50" y1="479.13" x2="211.30" y2="479.13" stroke="#9a9a9a" stroke-width="0.9"/>
<text x="208.90" y="482.44" font-size="10.5" text-anchor="end" fill="#111">2</text>
<line x1="209.50" y1="454.27" x2="211.30" y2="454.27" stroke="#9a9a9a" stroke-width="0.9"/>
<text x="208.90" y="457.57" font-size="10.5" text-anchor="end" fill="#111">4</text>
<line x1="209.50" y1="429.40" x2="211.30" y2="429.40" stroke="#9a9a9a" stroke-width="0.9"/>
<text x="208.90" y="432.71" font-size="10.5" text-anchor="end" fill="#111">6</text>
<line x1="221.10" y1="504.00" x2="221.10" y2="506.00" stroke="#9a9a9a" stroke-width="0.9"/>
<text x="225.60" y="513.60" font-size="10.6" text-anchor="end" fill="#111" transform="rotate(-45 225.60 513.60)">DMSO</text>
<line x1="239.80" y1="504.00" x2="239.80" y2="506.00" stroke="#9a9a9a" stroke-width="0.9"/>
<text x="244.30" y="513.60" font-size="10.6" text-anchor="end" fill="#111" transform="rotate(-45 244.30 513.60)">ADA-1.25</text>
<line x1="258.50" y1="504.00" x2="258.50" y2="506.00" stroke="#9a9a9a" stroke-width="0.9"/>
<text x="263.00" y="513.60" font-size="10.6" text-anchor="end" fill="#111" transform="rotate(-45 263.00 513.60)">ADA-2.5</text>
<line x1="277.20" y1="504.00" x2="277.20" y2="506.00" stroke="#9a9a9a" stroke-width="0.9"/>
<text x="281.70" y="513.60" font-size="10.6" text-anchor="end" fill="#111" transform="rotate(-45 281.70 513.60)">ADA-5</text>
<line x1="295.90" y1="504.00" x2="295.90" y2="506.00" stroke="#9a9a9a" stroke-width="0.9"/>
<text x="300.40" y="513.60" font-size="10.6" text-anchor="end" fill="#111" transform="rotate(-45 300.40 513.60)">ADA-5</text>
<line x1="314.60" y1="504.00" x2="314.60" y2="506.00" stroke="#9a9a9a" stroke-width="0.9"/>
<text x="319.10" y="513.60" font-size="10.6" text-anchor="end" fill="#111" transform="rotate(-45 319.10 513.60)">DMSO</text>
<text x="186.20" y="464.30" font-size="11.4" text-anchor="middle" fill="#111" transform="rotate(-90 186.20 464.30)">Relative ROS levels</text>
<text x="321.20" y="512.80" font-size="10.5" text-anchor="start" fill="#111">(μM)</text>
<line x1="276.50" y1="431.50" x2="296.20" y2="431.50" stroke="#666" stroke-width="0.8"/>
<line x1="276.50" y1="430.30" x2="276.50" y2="432.70" stroke="#666" stroke-width="0.8"/>
<line x1="296.20" y1="430.30" x2="296.20" y2="432.70" stroke="#666" stroke-width="0.8"/>
<text x="286.35" y="431.30" font-size="7" text-anchor="middle" fill="#222">**</text>
<text x="258.50" y="480.84" font-size="7" text-anchor="middle" fill="#222">**</text>
<text x="277.20" y="442.83" font-size="7" text-anchor="middle" fill="#222">**</text>
<line x1="283.00" y1="538.45" x2="326.50" y2="538.45" stroke="#555" stroke-width="0.75"/>
<text x="305.00" y="552.60" font-size="11.3" text-anchor="middle" fill="#111">NAC (5 mM)</text>
<text x="441.80" y="416.00" font-size="13" text-anchor="middle" fill="#111">H23</text>
<rect x="389.20" y="436.62" width="18.40" height="65.08" fill="#72b7d4"/>
<line x1="425.70" y1="495.19" x2="425.70" y2="493.19" stroke="#72b7d4" stroke-width="0.8"/>
<line x1="422.70" y1="493.19" x2="428.70" y2="493.19" stroke="#72b7d4" stroke-width="0.8"/>
<rect x="416.50" y="495.19" width="18.40" height="6.51" fill="#72b7d4"/>
<line x1="453.00" y1="476.97" x2="453.00" y2="472.97" stroke="#72b7d4" stroke-width="0.8"/>
<line x1="450.00" y1="472.97" x2="456.00" y2="472.97" stroke="#72b7d4" stroke-width="0.8"/>
<rect x="443.80" y="476.97" width="18.40" height="24.73" fill="#72b7d4"/>
<line x1="480.30" y1="442.47" x2="480.30" y2="440.47" stroke="#72b7d4" stroke-width="0.8"/>
<line x1="477.30" y1="440.47" x2="483.30" y2="440.47" stroke="#72b7d4" stroke-width="0.8"/>
<rect x="471.10" y="442.47" width="18.40" height="59.23" fill="#72b7d4"/>
<line x1="384.20" y1="423.30" x2="384.20" y2="502.10" stroke="#9a9a9a" stroke-width="0.9"/>
<line x1="383.80" y1="501.70" x2="494.70" y2="501.70" stroke="#9a9a9a" stroke-width="0.9"/>
<line x1="382.40" y1="501.70" x2="384.20" y2="501.70" stroke="#9a9a9a" stroke-width="0.9"/>
<text x="381.80" y="505.16" font-size="11" text-anchor="end" fill="#111">0</text>
<line x1="382.40" y1="475.67" x2="384.20" y2="475.67" stroke="#9a9a9a" stroke-width="0.9"/>
<text x="381.80" y="479.13" font-size="11" text-anchor="end" fill="#111">40</text>
<line x1="382.40" y1="449.63" x2="384.20" y2="449.63" stroke="#9a9a9a" stroke-width="0.9"/>
<text x="381.80" y="453.10" font-size="11" text-anchor="end" fill="#111">80</text>
<line x1="382.40" y1="423.60" x2="384.20" y2="423.60" stroke="#9a9a9a" stroke-width="0.9"/>
<text x="381.80" y="427.06" font-size="11" text-anchor="end" fill="#111">120</text>
<line x1="398.40" y1="501.70" x2="398.40" y2="503.70" stroke="#9a9a9a" stroke-width="0.9"/>
<text x="402.40" y="512.30" font-size="11.3" text-anchor="end" fill="#111" transform="rotate(-45 402.40 512.30)">DMSO</text>
<line x1="425.70" y1="501.70" x2="425.70" y2="503.70" stroke="#9a9a9a" stroke-width="0.9"/>
<text x="429.70" y="512.30" font-size="11.3" text-anchor="end" fill="#111" transform="rotate(-45 429.70 512.30)">ADA-5</text>
<line x1="453.00" y1="501.70" x2="453.00" y2="503.70" stroke="#9a9a9a" stroke-width="0.9"/>
<text x="457.00" y="512.30" font-size="11.3" text-anchor="end" fill="#111" transform="rotate(-45 457.00 512.30)">ADA-5</text>
<line x1="480.30" y1="501.70" x2="480.30" y2="503.70" stroke="#9a9a9a" stroke-width="0.9"/>
<text x="484.30" y="512.30" font-size="11.3" text-anchor="end" fill="#111" transform="rotate(-45 484.30 512.30)">DMSO</text>
<text x="356.50" y="459.65" font-size="12" text-anchor="middle" fill="#111" transform="rotate(-90 356.50 459.65)">Survival Rate (%)</text>
<text x="494.30" y="513.50" font-size="11.5" text-anchor="start" fill="#111">(μM)</text>
<line x1="425.40" y1="443.30" x2="453.30" y2="443.30" stroke="#666" stroke-width="0.8"/>
<line x1="425.40" y1="442.10" x2="425.40" y2="444.50" stroke="#666" stroke-width="0.8"/>
<line x1="453.30" y1="442.10" x2="453.30" y2="444.50" stroke="#666" stroke-width="0.8"/>
<text x="439.35" y="443.10" font-size="7" text-anchor="middle" fill="#222">**</text>
<line x1="445.40" y1="537.45" x2="487.00" y2="537.45" stroke="#555" stroke-width="0.75"/>
<text x="467.40" y="552.60" font-size="12" text-anchor="middle" fill="#111">NAC (5 mM)</text>
<text x="612.20" y="416.00" font-size="13" text-anchor="middle" fill="#111">H1299</text>
<rect x="558.50" y="437.00" width="18.40" height="65.00" fill="#72b7d4"/>
<line x1="595.00" y1="481.52" x2="595.00" y2="478.02" stroke="#72b7d4" stroke-width="0.8"/>
<line x1="592.00" y1="478.02" x2="598.00" y2="478.02" stroke="#72b7d4" stroke-width="0.8"/>
<rect x="585.80" y="481.52" width="18.40" height="20.48" fill="#72b7d4"/>
<line x1="622.30" y1="463.65" x2="622.30" y2="460.65" stroke="#72b7d4" stroke-width="0.8"/>
<line x1="619.30" y1="460.65" x2="625.30" y2="460.65" stroke="#72b7d4" stroke-width="0.8"/>
<rect x="613.10" y="463.65" width="18.40" height="38.35" fill="#72b7d4"/>
<line x1="649.60" y1="438.95" x2="649.60" y2="435.95" stroke="#72b7d4" stroke-width="0.8"/>
<line x1="646.60" y1="435.95" x2="652.60" y2="435.95" stroke="#72b7d4" stroke-width="0.8"/>
<rect x="640.40" y="438.95" width="18.40" height="63.05" fill="#72b7d4"/>
<line x1="553.60" y1="423.70" x2="553.60" y2="502.40" stroke="#9a9a9a" stroke-width="0.9"/>
<line x1="553.20" y1="502.00" x2="663.30" y2="502.00" stroke="#9a9a9a" stroke-width="0.9"/>
<line x1="551.80" y1="502.00" x2="553.60" y2="502.00" stroke="#9a9a9a" stroke-width="0.9"/>
<text x="551.20" y="505.46" font-size="11" text-anchor="end" fill="#111">0</text>
<line x1="551.80" y1="476.00" x2="553.60" y2="476.00" stroke="#9a9a9a" stroke-width="0.9"/>
<text x="551.20" y="479.46" font-size="11" text-anchor="end" fill="#111">40</text>
<line x1="551.80" y1="450.00" x2="553.60" y2="450.00" stroke="#9a9a9a" stroke-width="0.9"/>
<text x="551.20" y="453.46" font-size="11" text-anchor="end" fill="#111">80</text>
<line x1="551.80" y1="424.00" x2="553.60" y2="424.00" stroke="#9a9a9a" stroke-width="0.9"/>
<text x="551.20" y="427.46" font-size="11" text-anchor="end" fill="#111">120</text>
<line x1="567.70" y1="502.00" x2="567.70" y2="504.00" stroke="#9a9a9a" stroke-width="0.9"/>
<text x="571.70" y="512.60" font-size="11.3" text-anchor="end" fill="#111" transform="rotate(-45 571.70 512.60)">DMSO</text>
<line x1="595.00" y1="502.00" x2="595.00" y2="504.00" stroke="#9a9a9a" stroke-width="0.9"/>
<text x="599.00" y="512.60" font-size="11.3" text-anchor="end" fill="#111" transform="rotate(-45 599.00 512.60)">ADA-5</text>
<line x1="622.30" y1="502.00" x2="622.30" y2="504.00" stroke="#9a9a9a" stroke-width="0.9"/>
<text x="626.30" y="512.60" font-size="11.3" text-anchor="end" fill="#111" transform="rotate(-45 626.30 512.60)">ADA-5</text>
<line x1="649.60" y1="502.00" x2="649.60" y2="504.00" stroke="#9a9a9a" stroke-width="0.9"/>
<text x="653.60" y="512.60" font-size="11.3" text-anchor="end" fill="#111" transform="rotate(-45 653.60 512.60)">DMSO</text>
<text x="525.30" y="460.00" font-size="12" text-anchor="middle" fill="#111" transform="rotate(-90 525.30 460.00)">Survival Rate (%)</text>
<text x="660.40" y="513.80" font-size="11.5" text-anchor="start" fill="#111">(μM)</text>
<line x1="594.60" y1="443.60" x2="622.40" y2="443.60" stroke="#666" stroke-width="0.8"/>
<line x1="594.60" y1="442.40" x2="594.60" y2="444.80" stroke="#666" stroke-width="0.8"/>
<line x1="622.40" y1="442.40" x2="622.40" y2="444.80" stroke="#666" stroke-width="0.8"/>
<text x="608.50" y="443.40" font-size="7" text-anchor="middle" fill="#222">**</text>
<line x1="615.30" y1="537.45" x2="657.00" y2="537.45" stroke="#555" stroke-width="0.75"/>
<text x="637.10" y="552.40" font-size="12" text-anchor="middle" fill="#111">NAC (5 mM)</text>
<text x="95.80" y="763.50" font-size="12.3" text-anchor="middle" fill="#111">H23</text>
<rect x="43.90" y="834.24" width="12.40" height="14.86" fill="#5b5d5c"/>
<line x1="68.75" y1="825.32" x2="68.75" y2="822.82" stroke="#7a7a7a" stroke-width="0.8"/>
<line x1="65.75" y1="822.82" x2="71.75" y2="822.82" stroke="#7a7a7a" stroke-width="0.8"/>
<rect x="62.55" y="825.32" width="12.40" height="23.78" fill="#5b5d5c"/>
<line x1="87.40" y1="821.31" x2="87.40" y2="819.81" stroke="#7a7a7a" stroke-width="0.8"/>
<line x1="84.40" y1="819.81" x2="90.40" y2="819.81" stroke="#7a7a7a" stroke-width="0.8"/>
<rect x="81.20" y="821.31" width="12.40" height="27.79" fill="#5b5d5c"/>
<line x1="106.05" y1="786.39" x2="106.05" y2="784.59" stroke="#7a7a7a" stroke-width="0.8"/>
<line x1="103.05" y1="784.59" x2="109.05" y2="784.59" stroke="#7a7a7a" stroke-width="0.8"/>
<rect x="99.85" y="786.39" width="12.40" height="62.71" fill="#5b5d5c"/>
<line x1="124.70" y1="824.58" x2="124.70" y2="823.38" stroke="#7a7a7a" stroke-width="0.8"/>
<line x1="121.70" y1="823.38" x2="127.70" y2="823.38" stroke="#7a7a7a" stroke-width="0.8"/>
<rect x="118.50" y="824.58" width="12.40" height="24.52" fill="#5b5d5c"/>
<line x1="143.35" y1="837.21" x2="143.35" y2="835.21" stroke="#7a7a7a" stroke-width="0.8"/>
<line x1="140.35" y1="835.21" x2="146.35" y2="835.21" stroke="#7a7a7a" stroke-width="0.8"/>
<rect x="137.15" y="837.21" width="12.40" height="11.89" fill="#5b5d5c"/>
<line x1="40.30" y1="774.50" x2="40.30" y2="849.50" stroke="#9a9a9a" stroke-width="0.9"/>
<line x1="39.90" y1="849.10" x2="152.50" y2="849.10" stroke="#9a9a9a" stroke-width="0.9"/>
<line x1="38.50" y1="849.10" x2="40.30" y2="849.10" stroke="#9a9a9a" stroke-width="0.9"/>
<text x="37.90" y="852.41" font-size="10.5" text-anchor="end" fill="#111">0</text>
<line x1="38.50" y1="834.24" x2="40.30" y2="834.24" stroke="#9a9a9a" stroke-width="0.9"/>
<text x="37.90" y="837.55" font-size="10.5" text-anchor="end" fill="#111">1</text>
<line x1="38.50" y1="819.38" x2="40.30" y2="819.38" stroke="#9a9a9a" stroke-width="0.9"/>
<text x="37.90" y="822.69" font-size="10.5" text-anchor="end" fill="#111">2</text>
<line x1="38.50" y1="804.52" x2="40.30" y2="804.52" stroke="#9a9a9a" stroke-width="0.9"/>
<text x="37.90" y="807.83" font-size="10.5" text-anchor="end" fill="#111">3</text>
<line x1="38.50" y1="789.66" x2="40.30" y2="789.66" stroke="#9a9a9a" stroke-width="0.9"/>
<text x="37.90" y="792.97" font-size="10.5" text-anchor="end" fill="#111">4</text>
<line x1="38.50" y1="774.80" x2="40.30" y2="774.80" stroke="#9a9a9a" stroke-width="0.9"/>
<text x="37.90" y="778.11" font-size="10.5" text-anchor="end" fill="#111">5</text>
<line x1="50.10" y1="849.10" x2="50.10" y2="851.10" stroke="#9a9a9a" stroke-width="0.9"/>
<text x="54.90" y="858.60" font-size="10.7" text-anchor="end" fill="#111" transform="rotate(-45 54.90 858.60)">DMSO</text>
<line x1="68.75" y1="849.10" x2="68.75" y2="851.10" stroke="#9a9a9a" stroke-width="0.9"/>
<text x="73.55" y="858.60" font-size="10.7" text-anchor="end" fill="#111" transform="rotate(-45 73.55 858.60)">ADA-1.25</text>
<line x1="87.40" y1="849.10" x2="87.40" y2="851.10" stroke="#9a9a9a" stroke-width="0.9"/>
<text x="92.20" y="858.60" font-size="10.7" text-anchor="end" fill="#111" transform="rotate(-45 92.20 858.60)">CIS-10</text>
<line x1="106.05" y1="849.10" x2="106.05" y2="851.10" stroke="#9a9a9a" stroke-width="0.9"/>
<text x="110.85" y="858.60" font-size="10.7" text-anchor="end" fill="#111" transform="rotate(-45 110.85 858.60)">ADA-1.25+CIS-10</text>
<line x1="124.70" y1="849.10" x2="124.70" y2="851.10" stroke="#9a9a9a" stroke-width="0.9"/>
<text x="129.50" y="858.60" font-size="10.7" text-anchor="end" fill="#111" transform="rotate(-45 129.50 858.60)">ADA-1.25+CIS-10</text>
<line x1="143.35" y1="849.10" x2="143.35" y2="851.10" stroke="#9a9a9a" stroke-width="0.9"/>
<text x="148.15" y="858.60" font-size="10.7" text-anchor="end" fill="#111" transform="rotate(-45 148.15 858.60)">DMSO</text>
<text x="15.50" y="809.55" font-size="11.4" text-anchor="middle" fill="#111" transform="rotate(-90 15.50 809.55)">Relative ROS levels</text>
<text x="150.70" y="858.60" font-size="10.5" text-anchor="start" fill="#111">(μM)</text>
<line x1="105.50" y1="773.80" x2="125.00" y2="773.80" stroke="#666" stroke-width="0.8"/>
<line x1="105.50" y1="772.60" x2="105.50" y2="775.00" stroke="#666" stroke-width="0.8"/>
<line x1="125.00" y1="772.60" x2="125.00" y2="775.00" stroke="#666" stroke-width="0.8"/>
<text x="115.25" y="773.60" font-size="7" text-anchor="middle" fill="#222">**</text>
<text x="68.75" y="822.22" font-size="7" text-anchor="middle" fill="#222">**</text>
<text x="87.40" y="819.21" font-size="7" text-anchor="middle" fill="#222">**</text>
<text x="106.05" y="783.99" font-size="7" text-anchor="middle" fill="#222">**</text>
<line x1="120.00" y1="883.45" x2="145.60" y2="883.45" stroke="#555" stroke-width="0.75"/>
<text x="133.50" y="897.70" font-size="11.3" text-anchor="middle" fill="#111">NAC (5 mM)</text>
<text x="269.00" y="763.40" font-size="12.4" text-anchor="middle" fill="#111">H1299</text>
<rect x="216.40" y="833.62" width="12.40" height="14.78" fill="#5b5d5c"/>
<line x1="241.30" y1="814.11" x2="241.30" y2="811.61" stroke="#7a7a7a" stroke-width="0.8"/>
<line x1="238.30" y1="811.61" x2="244.30" y2="811.61" stroke="#7a7a7a" stroke-width="0.8"/>
<rect x="235.10" y="814.11" width="12.40" height="34.29" fill="#5b5d5c"/>
<line x1="260.00" y1="823.57" x2="260.00" y2="821.57" stroke="#7a7a7a" stroke-width="0.8"/>
<line x1="257.00" y1="821.57" x2="263.00" y2="821.57" stroke="#7a7a7a" stroke-width="0.8"/>
<rect x="253.80" y="823.57" width="12.40" height="24.83" fill="#5b5d5c"/>
<line x1="278.70" y1="791.64" x2="278.70" y2="787.84" stroke="#7a7a7a" stroke-width="0.8"/>
<line x1="275.70" y1="787.84" x2="281.70" y2="787.84" stroke="#7a7a7a" stroke-width="0.8"/>
<rect x="272.50" y="791.64" width="12.40" height="56.76" fill="#5b5d5c"/>
<line x1="297.40" y1="825.20" x2="297.40" y2="823.20" stroke="#7a7a7a" stroke-width="0.8"/>
<line x1="294.40" y1="823.20" x2="300.40" y2="823.20" stroke="#7a7a7a" stroke-width="0.8"/>
<rect x="291.20" y="825.20" width="12.40" height="23.20" fill="#5b5d5c"/>
<line x1="316.10" y1="836.28" x2="316.10" y2="834.48" stroke="#7a7a7a" stroke-width="0.8"/>
<line x1="313.10" y1="834.48" x2="319.10" y2="834.48" stroke="#7a7a7a" stroke-width="0.8"/>
<rect x="309.90" y="836.28" width="12.40" height="12.12" fill="#5b5d5c"/>
<line x1="212.50" y1="774.20" x2="212.50" y2="848.80" stroke="#9a9a9a" stroke-width="0.9"/>
<line x1="212.10" y1="848.40" x2="324.70" y2="848.40" stroke="#9a9a9a" stroke-width="0.9"/>
<line x1="210.70" y1="848.40" x2="212.50" y2="848.40" stroke="#9a9a9a" stroke-width="0.9"/>
<text x="210.10" y="851.71" font-size="10.5" text-anchor="end" fill="#111">0</text>
<line x1="210.70" y1="833.62" x2="212.50" y2="833.62" stroke="#9a9a9a" stroke-width="0.9"/>
<text x="210.10" y="836.93" font-size="10.5" text-anchor="end" fill="#111">1</text>
<line x1="210.70" y1="818.84" x2="212.50" y2="818.84" stroke="#9a9a9a" stroke-width="0.9"/>
<text x="210.10" y="822.15" font-size="10.5" text-anchor="end" fill="#111">2</text>
<line x1="210.70" y1="804.06" x2="212.50" y2="804.06" stroke="#9a9a9a" stroke-width="0.9"/>
<text x="210.10" y="807.37" font-size="10.5" text-anchor="end" fill="#111">3</text>
<line x1="210.70" y1="789.28" x2="212.50" y2="789.28" stroke="#9a9a9a" stroke-width="0.9"/>
<text x="210.10" y="792.59" font-size="10.5" text-anchor="end" fill="#111">4</text>
<line x1="210.70" y1="774.50" x2="212.50" y2="774.50" stroke="#9a9a9a" stroke-width="0.9"/>
<text x="210.10" y="777.81" font-size="10.5" text-anchor="end" fill="#111">5</text>
<line x1="222.60" y1="848.40" x2="222.60" y2="850.40" stroke="#9a9a9a" stroke-width="0.9"/>
<text x="227.40" y="857.90" font-size="10.7" text-anchor="end" fill="#111" transform="rotate(-45 227.40 857.90)">DMSO</text>
<line x1="241.30" y1="848.40" x2="241.30" y2="850.40" stroke="#9a9a9a" stroke-width="0.9"/>
<text x="246.10" y="857.90" font-size="10.7" text-anchor="end" fill="#111" transform="rotate(-45 246.10 857.90)">ADA-2.5</text>
<line x1="260.00" y1="848.40" x2="260.00" y2="850.40" stroke="#9a9a9a" stroke-width="0.9"/>
<text x="264.80" y="857.90" font-size="10.7" text-anchor="end" fill="#111" transform="rotate(-45 264.80 857.90)">CIS-5</text>
<line x1="278.70" y1="848.40" x2="278.70" y2="850.40" stroke="#9a9a9a" stroke-width="0.9"/>
<text x="283.50" y="857.90" font-size="10.7" text-anchor="end" fill="#111" transform="rotate(-45 283.50 857.90)">ADA-2.5+CIS-5</text>
<line x1="297.40" y1="848.40" x2="297.40" y2="850.40" stroke="#9a9a9a" stroke-width="0.9"/>
<text x="302.20" y="857.90" font-size="10.7" text-anchor="end" fill="#111" transform="rotate(-45 302.20 857.90)">ADA-2.5+CIS-5</text>
<line x1="316.10" y1="848.40" x2="316.10" y2="850.40" stroke="#9a9a9a" stroke-width="0.9"/>
<text x="320.90" y="857.90" font-size="10.7" text-anchor="end" fill="#111" transform="rotate(-45 320.90 857.90)">DMSO</text>
<text x="189.20" y="809.05" font-size="11.4" text-anchor="middle" fill="#111" transform="rotate(-90 189.20 809.05)">Relative ROS levels</text>
<text x="323.40" y="857.60" font-size="10.5" text-anchor="start" fill="#111">(μM)</text>
<line x1="278.20" y1="775.50" x2="297.30" y2="775.50" stroke="#666" stroke-width="0.8"/>
<line x1="278.20" y1="774.30" x2="278.20" y2="776.70" stroke="#666" stroke-width="0.8"/>
<line x1="297.30" y1="774.30" x2="297.30" y2="776.70" stroke="#666" stroke-width="0.8"/>
<text x="287.75" y="775.30" font-size="7" text-anchor="middle" fill="#222">**</text>
<text x="241.30" y="811.01" font-size="7" text-anchor="middle" fill="#222">**</text>
<text x="260.00" y="820.97" font-size="7" text-anchor="middle" fill="#222">**</text>
<text x="278.70" y="787.24" font-size="7" text-anchor="middle" fill="#222">**</text>
<line x1="292.70" y1="882.45" x2="318.30" y2="882.45" stroke="#9a9a9a" stroke-width="1.1"/>
<text x="306.70" y="897.00" font-size="11.3" text-anchor="middle" fill="#111">NAC (5 mM)</text>
<text x="438.50" y="762.30" font-size="13" text-anchor="middle" fill="#111">H23</text>
<rect x="385.30" y="783.55" width="18.50" height="61.75" fill="#72b7d4"/>
<line x1="422.15" y1="837.89" x2="422.15" y2="835.39" stroke="#72b7d4" stroke-width="0.8"/>
<line x1="419.15" y1="835.39" x2="425.15" y2="835.39" stroke="#72b7d4" stroke-width="0.8"/>
<rect x="412.90" y="837.89" width="18.50" height="7.41" fill="#72b7d4"/>
<line x1="449.75" y1="808.99" x2="449.75" y2="806.99" stroke="#72b7d4" stroke-width="0.8"/>
<line x1="446.75" y1="806.99" x2="452.75" y2="806.99" stroke="#72b7d4" stroke-width="0.8"/>
<rect x="440.50" y="808.99" width="18.50" height="36.31" fill="#72b7d4"/>
<line x1="477.35" y1="788.49" x2="477.35" y2="785.49" stroke="#72b7d4" stroke-width="0.8"/>
<line x1="474.35" y1="785.49" x2="480.35" y2="785.49" stroke="#72b7d4" stroke-width="0.8"/>
<rect x="468.10" y="788.49" width="18.50" height="56.81" fill="#72b7d4"/>
<line x1="380.70" y1="770.90" x2="380.70" y2="845.70" stroke="#9a9a9a" stroke-width="0.9"/>
<line x1="380.30" y1="845.30" x2="491.40" y2="845.30" stroke="#9a9a9a" stroke-width="0.9"/>
<line x1="378.90" y1="845.30" x2="380.70" y2="845.30" stroke="#9a9a9a" stroke-width="0.9"/>
<text x="378.30" y="848.76" font-size="11" text-anchor="end" fill="#111">0</text>
<line x1="378.90" y1="820.60" x2="380.70" y2="820.60" stroke="#9a9a9a" stroke-width="0.9"/>
<text x="378.30" y="824.07" font-size="11" text-anchor="end" fill="#111">40</text>
<line x1="378.90" y1="795.90" x2="380.70" y2="795.90" stroke="#9a9a9a" stroke-width="0.9"/>
<text x="378.30" y="799.37" font-size="11" text-anchor="end" fill="#111">80</text>
<line x1="378.90" y1="771.20" x2="380.70" y2="771.20" stroke="#9a9a9a" stroke-width="0.9"/>
<text x="378.30" y="774.67" font-size="11" text-anchor="end" fill="#111">120</text>
<line x1="394.55" y1="845.30" x2="394.55" y2="847.30" stroke="#9a9a9a" stroke-width="0.9"/>
<text x="398.95" y="855.80" font-size="11" text-anchor="end" fill="#111" transform="rotate(-45 398.95 855.80)">DMSO</text>
<line x1="422.15" y1="845.30" x2="422.15" y2="847.30" stroke="#9a9a9a" stroke-width="0.9"/>
<text x="426.55" y="855.80" font-size="11" text-anchor="end" fill="#111" transform="rotate(-45 426.55 855.80)">ADA-1.25+CIS-10</text>
<line x1="449.75" y1="845.30" x2="449.75" y2="847.30" stroke="#9a9a9a" stroke-width="0.9"/>
<text x="454.15" y="855.80" font-size="11" text-anchor="end" fill="#111" transform="rotate(-45 454.15 855.80)">ADA-1.25+CIS-10</text>
<line x1="477.35" y1="845.30" x2="477.35" y2="847.30" stroke="#9a9a9a" stroke-width="0.9"/>
<text x="481.75" y="855.80" font-size="11" text-anchor="end" fill="#111" transform="rotate(-45 481.75 855.80)">DMSO</text>
<text x="351.80" y="805.45" font-size="11.6" text-anchor="middle" fill="#111" transform="rotate(-90 351.80 805.45)">Survival Rate (%)</text>
<text x="489.00" y="856.00" font-size="11.3" text-anchor="start" fill="#111">(μM)</text>
<line x1="422.40" y1="789.10" x2="450.50" y2="789.10" stroke="#666" stroke-width="0.8"/>
<line x1="422.40" y1="787.90" x2="422.40" y2="790.30" stroke="#666" stroke-width="0.8"/>
<line x1="450.50" y1="787.90" x2="450.50" y2="790.30" stroke="#666" stroke-width="0.8"/>
<text x="436.45" y="788.90" font-size="7" text-anchor="middle" fill="#222">**</text>
<line x1="442.30" y1="881.45" x2="484.50" y2="881.45" stroke="#555" stroke-width="0.75"/>
<text x="464.60" y="896.00" font-size="12.1" text-anchor="middle" fill="#111">NAC (5 mM)</text>
<text x="611.40" y="759.70" font-size="13" text-anchor="middle" fill="#111">H1299</text>
<rect x="557.00" y="780.88" width="18.50" height="64.92" fill="#72b7d4"/>
<line x1="593.85" y1="833.01" x2="593.85" y2="829.01" stroke="#72b7d4" stroke-width="0.8"/>
<line x1="590.85" y1="829.01" x2="596.85" y2="829.01" stroke="#72b7d4" stroke-width="0.8"/>
<rect x="584.60" y="833.01" width="18.50" height="12.79" fill="#72b7d4"/>
<line x1="621.45" y1="802.11" x2="621.45" y2="800.11" stroke="#72b7d4" stroke-width="0.8"/>
<line x1="618.45" y1="800.11" x2="624.45" y2="800.11" stroke="#72b7d4" stroke-width="0.8"/>
<rect x="612.20" y="802.11" width="18.50" height="43.69" fill="#72b7d4"/>
<line x1="649.05" y1="783.48" x2="649.05" y2="781.48" stroke="#72b7d4" stroke-width="0.8"/>
<line x1="646.05" y1="781.48" x2="652.05" y2="781.48" stroke="#72b7d4" stroke-width="0.8"/>
<rect x="639.80" y="783.48" width="18.50" height="62.32" fill="#72b7d4"/>
<line x1="552.40" y1="767.60" x2="552.40" y2="846.20" stroke="#9a9a9a" stroke-width="0.9"/>
<line x1="552.00" y1="845.80" x2="663.30" y2="845.80" stroke="#9a9a9a" stroke-width="0.9"/>
<line x1="550.60" y1="845.80" x2="552.40" y2="845.80" stroke="#9a9a9a" stroke-width="0.9"/>
<text x="550.00" y="849.26" font-size="11" text-anchor="end" fill="#111">0</text>
<line x1="550.60" y1="819.83" x2="552.40" y2="819.83" stroke="#9a9a9a" stroke-width="0.9"/>
<text x="550.00" y="823.30" font-size="11" text-anchor="end" fill="#111">40</text>
<line x1="550.60" y1="793.87" x2="552.40" y2="793.87" stroke="#9a9a9a" stroke-width="0.9"/>
<text x="550.00" y="797.33" font-size="11" text-anchor="end" fill="#111">80</text>
<line x1="550.60" y1="767.90" x2="552.40" y2="767.90" stroke="#9a9a9a" stroke-width="0.9"/>
<text x="550.00" y="771.37" font-size="11" text-anchor="end" fill="#111">120</text>
<line x1="566.25" y1="845.80" x2="566.25" y2="847.80" stroke="#9a9a9a" stroke-width="0.9"/>
<text x="570.65" y="856.30" font-size="11" text-anchor="end" fill="#111" transform="rotate(-45 570.65 856.30)">DMSO</text>
<line x1="593.85" y1="845.80" x2="593.85" y2="847.80" stroke="#9a9a9a" stroke-width="0.9"/>
<text x="598.25" y="856.30" font-size="11" text-anchor="end" fill="#111" transform="rotate(-45 598.25 856.30)">ADA-2.5+CIS-5</text>
<line x1="621.45" y1="845.80" x2="621.45" y2="847.80" stroke="#9a9a9a" stroke-width="0.9"/>
<text x="625.85" y="856.30" font-size="11" text-anchor="end" fill="#111" transform="rotate(-45 625.85 856.30)">ADA-2.5+CIS-5</text>
<line x1="649.05" y1="845.80" x2="649.05" y2="847.80" stroke="#9a9a9a" stroke-width="0.9"/>
<text x="653.45" y="856.30" font-size="11" text-anchor="end" fill="#111" transform="rotate(-45 653.45 856.30)">DMSO</text>
<text x="522.30" y="804.05" font-size="12" text-anchor="middle" fill="#111" transform="rotate(-90 522.30 804.05)">Survival Rate (%)</text>
<text x="661.30" y="856.00" font-size="11.3" text-anchor="start" fill="#111">(μM)</text>
<line x1="593.80" y1="787.30" x2="621.70" y2="787.30" stroke="#666" stroke-width="0.8"/>
<line x1="593.80" y1="786.10" x2="593.80" y2="788.50" stroke="#666" stroke-width="0.8"/>
<line x1="621.70" y1="786.10" x2="621.70" y2="788.50" stroke="#666" stroke-width="0.8"/>
<text x="607.75" y="787.10" font-size="7" text-anchor="middle" fill="#222">**</text>
<line x1="614.80" y1="883.45" x2="656.40" y2="883.45" stroke="#555" stroke-width="0.75"/>
<text x="636.80" y="897.70" font-size="12.1" text-anchor="middle" fill="#111">NAC (5 mM)</text>
<text x="92.50" y="604.00" font-size="13" text-anchor="middle" fill="#111">H23</text>
<polyline fill="none" stroke="#747474" stroke-width="0.8" points="37.6,665.0 43.5,672.2 49.5,675.7 61.4,681.1 85.2,687.0 132.8,695.9"/>
<polygon points="37.6,662.6 35.4,666.7 39.8,666.7" fill="#5a58f5"/>
<line x1="43.55" y1="670.42" x2="43.55" y2="674.02" stroke="#747474" stroke-width="0.7"/>
<line x1="41.55" y1="670.42" x2="45.55" y2="670.42" stroke="#747474" stroke-width="0.7"/>
<line x1="41.55" y1="674.02" x2="45.55" y2="674.02" stroke="#747474" stroke-width="0.7"/>
<polygon points="43.5,670.1 41.6,673.7 45.5,673.7" fill="#626262"/>
<line x1="49.50" y1="673.45" x2="49.50" y2="677.85" stroke="#747474" stroke-width="0.7"/>
<line x1="47.50" y1="673.45" x2="51.50" y2="673.45" stroke="#747474" stroke-width="0.7"/>
<line x1="47.50" y1="677.85" x2="51.50" y2="677.85" stroke="#747474" stroke-width="0.7"/>
<polygon points="49.5,673.5 47.6,677.1 51.4,677.1" fill="#626262"/>
<line x1="61.40" y1="678.64" x2="61.40" y2="683.64" stroke="#747474" stroke-width="0.7"/>
<line x1="59.40" y1="678.64" x2="63.40" y2="678.64" stroke="#747474" stroke-width="0.7"/>
<line x1="59.40" y1="683.64" x2="63.40" y2="683.64" stroke="#747474" stroke-width="0.7"/>
<polygon points="61.4,679.0 59.5,682.6 63.3,682.6" fill="#626262"/>
<line x1="85.20" y1="684.17" x2="85.20" y2="689.77" stroke="#747474" stroke-width="0.7"/>
<line x1="83.20" y1="684.17" x2="87.20" y2="684.17" stroke="#747474" stroke-width="0.7"/>
<line x1="83.20" y1="689.77" x2="87.20" y2="689.77" stroke="#747474" stroke-width="0.7"/>
<polygon points="85.2,684.8 83.3,688.4 87.1,688.4" fill="#626262"/>
<line x1="132.80" y1="694.39" x2="132.80" y2="697.39" stroke="#747474" stroke-width="0.7"/>
<line x1="130.80" y1="694.39" x2="134.80" y2="694.39" stroke="#747474" stroke-width="0.7"/>
<line x1="130.80" y1="697.39" x2="134.80" y2="697.39" stroke="#747474" stroke-width="0.7"/>
<polygon points="132.8,693.8 130.9,697.3 134.7,697.3" fill="#626262"/>
<polyline fill="none" stroke="#222" stroke-width="0.7" points="37.6,629.0 43.5,636.2 49.5,644.1 61.4,648.9 85.2,662.6 132.8,679.1"/>
<circle cx="37.6" cy="629.0" r="1.9" fill="#111"/>
<line x1="43.55" y1="633.72" x2="43.55" y2="638.72" stroke="#222" stroke-width="0.7"/>
<line x1="41.55" y1="633.72" x2="45.55" y2="633.72" stroke="#222" stroke-width="0.7"/>
<line x1="41.55" y1="638.72" x2="45.55" y2="638.72" stroke="#222" stroke-width="0.7"/>
<circle cx="43.5" cy="636.2" r="1.9" fill="#111"/>
<line x1="49.50" y1="641.11" x2="49.50" y2="647.11" stroke="#222" stroke-width="0.7"/>
<line x1="47.50" y1="641.11" x2="51.50" y2="641.11" stroke="#222" stroke-width="0.7"/>
<line x1="47.50" y1="647.11" x2="51.50" y2="647.11" stroke="#222" stroke-width="0.7"/>
<circle cx="49.5" cy="644.1" r="1.9" fill="#111"/>
<line x1="61.40" y1="645.91" x2="61.40" y2="651.91" stroke="#222" stroke-width="0.7"/>
<line x1="59.40" y1="645.91" x2="63.40" y2="645.91" stroke="#222" stroke-width="0.7"/>
<line x1="59.40" y1="651.91" x2="63.40" y2="651.91" stroke="#222" stroke-width="0.7"/>
<circle cx="61.4" cy="648.9" r="1.9" fill="#111"/>
<circle cx="85.2" cy="662.6" r="1.9" fill="#111"/>
<line x1="132.80" y1="675.88" x2="132.80" y2="682.28" stroke="#222" stroke-width="0.7"/>
<line x1="130.80" y1="675.88" x2="134.80" y2="675.88" stroke="#222" stroke-width="0.7"/>
<line x1="130.80" y1="682.28" x2="134.80" y2="682.28" stroke="#222" stroke-width="0.7"/>
<circle cx="132.8" cy="679.1" r="1.9" fill="#111"/>
<line x1="37.60" y1="615.00" x2="37.60" y2="698.00" stroke="#3a3a3a" stroke-width="0.8"/>
<line x1="37.20" y1="697.60" x2="156.60" y2="697.60" stroke="#3a3a3a" stroke-width="0.8"/>
<line x1="35.80" y1="697.60" x2="37.60" y2="697.60" stroke="#3a3a3a" stroke-width="0.8"/>
<text x="34.80" y="701.20" font-size="11" text-anchor="end" fill="#111">0</text>
<line x1="35.80" y1="670.17" x2="37.60" y2="670.17" stroke="#3a3a3a" stroke-width="0.8"/>
<text x="34.80" y="673.77" font-size="11" text-anchor="end" fill="#111">40</text>
<line x1="35.80" y1="642.73" x2="37.60" y2="642.73" stroke="#3a3a3a" stroke-width="0.8"/>
<text x="34.80" y="646.33" font-size="11" text-anchor="end" fill="#111">80</text>
<line x1="35.80" y1="615.30" x2="37.60" y2="615.30" stroke="#3a3a3a" stroke-width="0.8"/>
<text x="34.80" y="618.90" font-size="11" text-anchor="end" fill="#111">120</text>
<line x1="37.60" y1="697.60" x2="37.60" y2="699.60" stroke="#3a3a3a" stroke-width="0.8"/>
<text x="37.60" y="711.00" font-size="11" text-anchor="middle" fill="#111">0</text>
<line x1="61.40" y1="697.60" x2="61.40" y2="699.60" stroke="#3a3a3a" stroke-width="0.8"/>
<text x="61.40" y="711.00" font-size="11" text-anchor="middle" fill="#111">5</text>
<line x1="85.20" y1="697.60" x2="85.20" y2="699.60" stroke="#3a3a3a" stroke-width="0.8"/>
<text x="85.20" y="711.00" font-size="11" text-anchor="middle" fill="#111">10</text>
<line x1="109.00" y1="697.60" x2="109.00" y2="699.60" stroke="#3a3a3a" stroke-width="0.8"/>
<text x="109.00" y="711.00" font-size="11" text-anchor="middle" fill="#111">15</text>
<line x1="132.80" y1="697.60" x2="132.80" y2="699.60" stroke="#3a3a3a" stroke-width="0.8"/>
<text x="132.80" y="711.00" font-size="11" text-anchor="middle" fill="#111">20</text>
<line x1="156.60" y1="697.60" x2="156.60" y2="699.60" stroke="#3a3a3a" stroke-width="0.8"/>
<text x="156.60" y="711.00" font-size="11" text-anchor="middle" fill="#111">25</text>
<text x="167.00" y="710.80" font-size="11" text-anchor="start" fill="#111">(μM)</text>
<text x="12.80" y="653.45" font-size="12.4" text-anchor="middle" fill="#111" transform="rotate(-90 12.80 653.45)">Survival Rate (%)</text>
<line x1="89.20" y1="618.40" x2="96.20" y2="618.40" stroke="#222" stroke-width="0.8"/>
<circle cx="92.7" cy="618.4" r="1.9" fill="#111"/>
<text x="101.70" y="621.00" font-size="9" text-anchor="start" fill="#111">Cisplatin</text>
<line x1="89.20" y1="631.70" x2="96.20" y2="631.70" stroke="#747474" stroke-width="0.8"/>
<polygon points="92.7,629.8 91.0,633.0 94.4,633.0" fill="#626262"/>
<text x="101.70" y="634.30" font-size="9" text-anchor="start" fill="#111">ADA-1.25+Cisplatin</text>
<text x="435.20" y="604.00" font-size="13" text-anchor="middle" fill="#111">H1299</text>
<polyline fill="none" stroke="#747474" stroke-width="0.8" points="378.7,659.9 384.6,672.9 390.6,681.8 402.5,684.2 426.3,687.7 473.9,692.5"/>
<polygon points="378.7,657.4 376.5,661.6 380.9,661.6" fill="#5a58f5"/>
<line x1="384.65" y1="671.41" x2="384.65" y2="674.41" stroke="#747474" stroke-width="0.7"/>
<line x1="382.65" y1="671.41" x2="386.65" y2="671.41" stroke="#747474" stroke-width="0.7"/>
<line x1="382.65" y1="674.41" x2="386.65" y2="674.41" stroke="#747474" stroke-width="0.7"/>
<polygon points="384.6,670.8 382.7,674.4 386.6,674.4" fill="#626262"/>
<line x1="390.60" y1="680.03" x2="390.60" y2="683.63" stroke="#747474" stroke-width="0.7"/>
<line x1="388.60" y1="680.03" x2="392.60" y2="680.03" stroke="#747474" stroke-width="0.7"/>
<line x1="388.60" y1="683.63" x2="392.60" y2="683.63" stroke="#747474" stroke-width="0.7"/>
<polygon points="390.6,679.7 388.7,683.3 392.5,683.3" fill="#626262"/>
<line x1="402.50" y1="682.73" x2="402.50" y2="685.73" stroke="#747474" stroke-width="0.7"/>
<line x1="400.50" y1="682.73" x2="404.50" y2="682.73" stroke="#747474" stroke-width="0.7"/>
<line x1="400.50" y1="685.73" x2="404.50" y2="685.73" stroke="#747474" stroke-width="0.7"/>
<polygon points="402.5,682.1 400.6,685.7 404.4,685.7" fill="#626262"/>
<line x1="426.30" y1="685.66" x2="426.30" y2="689.66" stroke="#747474" stroke-width="0.7"/>
<line x1="424.30" y1="685.66" x2="428.30" y2="685.66" stroke="#747474" stroke-width="0.7"/>
<line x1="424.30" y1="689.66" x2="428.30" y2="689.66" stroke="#747474" stroke-width="0.7"/>
<polygon points="426.3,685.5 424.4,689.1 428.2,689.1" fill="#626262"/>
<line x1="473.90" y1="689.96" x2="473.90" y2="694.96" stroke="#747474" stroke-width="0.7"/>
<line x1="471.90" y1="689.96" x2="475.90" y2="689.96" stroke="#747474" stroke-width="0.7"/>
<line x1="471.90" y1="694.96" x2="475.90" y2="694.96" stroke="#747474" stroke-width="0.7"/>
<polygon points="473.9,690.3 472.0,693.9 475.8,693.9" fill="#626262"/>
<polyline fill="none" stroke="#222" stroke-width="0.7" points="378.7,629.0 384.6,646.5 390.6,657.1 402.5,663.7 426.3,672.2 473.9,680.5"/>
<circle cx="378.7" cy="629.0" r="1.9" fill="#111"/>
<line x1="384.65" y1="645.01" x2="384.65" y2="648.01" stroke="#222" stroke-width="0.7"/>
<line x1="382.65" y1="645.01" x2="386.65" y2="645.01" stroke="#222" stroke-width="0.7"/>
<line x1="382.65" y1="648.01" x2="386.65" y2="648.01" stroke="#222" stroke-width="0.7"/>
<circle cx="384.6" cy="646.5" r="1.9" fill="#111"/>
<line x1="390.60" y1="654.64" x2="390.60" y2="659.64" stroke="#222" stroke-width="0.7"/>
<line x1="388.60" y1="654.64" x2="392.60" y2="654.64" stroke="#222" stroke-width="0.7"/>
<line x1="388.60" y1="659.64" x2="392.60" y2="659.64" stroke="#222" stroke-width="0.7"/>
<circle cx="390.6" cy="657.1" r="1.9" fill="#111"/>
<line x1="402.50" y1="662.15" x2="402.50" y2="665.15" stroke="#222" stroke-width="0.7"/>
<line x1="400.50" y1="662.15" x2="404.50" y2="662.15" stroke="#222" stroke-width="0.7"/>
<line x1="400.50" y1="665.15" x2="404.50" y2="665.15" stroke="#222" stroke-width="0.7"/>
<circle cx="402.5" cy="663.7" r="1.9" fill="#111"/>
<line x1="426.30" y1="670.02" x2="426.30" y2="674.42" stroke="#222" stroke-width="0.7"/>
<line x1="424.30" y1="670.02" x2="428.30" y2="670.02" stroke="#222" stroke-width="0.7"/>
<line x1="424.30" y1="674.42" x2="428.30" y2="674.42" stroke="#222" stroke-width="0.7"/>
<circle cx="426.3" cy="672.2" r="1.9" fill="#111"/>
<line x1="473.90" y1="677.95" x2="473.90" y2="682.95" stroke="#222" stroke-width="0.7"/>
<line x1="471.90" y1="677.95" x2="475.90" y2="677.95" stroke="#222" stroke-width="0.7"/>
<line x1="471.90" y1="682.95" x2="475.90" y2="682.95" stroke="#222" stroke-width="0.7"/>
<circle cx="473.9" cy="680.5" r="1.9" fill="#111"/>
<line x1="378.70" y1="615.00" x2="378.70" y2="698.00" stroke="#3a3a3a" stroke-width="0.8"/>
<line x1="378.30" y1="697.60" x2="497.70" y2="697.60" stroke="#3a3a3a" stroke-width="0.8"/>
<line x1="376.90" y1="697.60" x2="378.70" y2="697.60" stroke="#3a3a3a" stroke-width="0.8"/>
<text x="375.90" y="701.20" font-size="11" text-anchor="end" fill="#111">0</text>
<line x1="376.90" y1="670.17" x2="378.70" y2="670.17" stroke="#3a3a3a" stroke-width="0.8"/>
<text x="375.90" y="673.77" font-size="11" text-anchor="end" fill="#111">40</text>
<line x1="376.90" y1="642.73" x2="378.70" y2="642.73" stroke="#3a3a3a" stroke-width="0.8"/>
<text x="375.90" y="646.33" font-size="11" text-anchor="end" fill="#111">80</text>
<line x1="376.90" y1="615.30" x2="378.70" y2="615.30" stroke="#3a3a3a" stroke-width="0.8"/>
<text x="375.90" y="618.90" font-size="11" text-anchor="end" fill="#111">120</text>
<line x1="378.70" y1="697.60" x2="378.70" y2="699.60" stroke="#3a3a3a" stroke-width="0.8"/>
<text x="378.70" y="711.00" font-size="11" text-anchor="middle" fill="#111">0</text>
<line x1="402.50" y1="697.60" x2="402.50" y2="699.60" stroke="#3a3a3a" stroke-width="0.8"/>
<text x="402.50" y="711.00" font-size="11" text-anchor="middle" fill="#111">5</text>
<line x1="426.30" y1="697.60" x2="426.30" y2="699.60" stroke="#3a3a3a" stroke-width="0.8"/>
<text x="426.30" y="711.00" font-size="11" text-anchor="middle" fill="#111">10</text>
<line x1="450.10" y1="697.60" x2="450.10" y2="699.60" stroke="#3a3a3a" stroke-width="0.8"/>
<text x="450.10" y="711.00" font-size="11" text-anchor="middle" fill="#111">15</text>
<line x1="473.90" y1="697.60" x2="473.90" y2="699.60" stroke="#3a3a3a" stroke-width="0.8"/>
<text x="473.90" y="711.00" font-size="11" text-anchor="middle" fill="#111">20</text>
<line x1="497.70" y1="697.60" x2="497.70" y2="699.60" stroke="#3a3a3a" stroke-width="0.8"/>
<text x="497.70" y="711.00" font-size="11" text-anchor="middle" fill="#111">25</text>
<text x="508.00" y="710.80" font-size="11" text-anchor="start" fill="#111">(μM)</text>
<text x="353.70" y="653.45" font-size="12.4" text-anchor="middle" fill="#111" transform="rotate(-90 353.70 653.45)">Survival Rate (%)</text>
<line x1="428.50" y1="618.40" x2="435.50" y2="618.40" stroke="#222" stroke-width="0.8"/>
<circle cx="432.0" cy="618.4" r="1.9" fill="#111"/>
<text x="441.00" y="621.00" font-size="9" text-anchor="start" fill="#111">Cisplatin</text>
<line x1="428.50" y1="631.70" x2="435.50" y2="631.70" stroke="#747474" stroke-width="0.8"/>
<polygon points="432.0,629.8 430.3,633.0 433.7,633.0" fill="#626262"/>
<text x="441.00" y="634.30" font-size="9" text-anchor="start" fill="#111">ADA-2.5+Cisplatin</text>
<text x="270.50" y="594.40" font-size="13" text-anchor="middle" fill="#111">H23</text>
<line x1="211.00" y1="611.50" x2="327.20" y2="611.50" stroke="#777" stroke-width="0.8" stroke-dasharray="0.9 0.9"/>
<line x1="211.00" y1="652.65" x2="327.20" y2="652.65" stroke="#333" stroke-width="0.8" stroke-dasharray="0.9 0.9"/>
<line x1="211.00" y1="611.20" x2="211.00" y2="694.20" stroke="#777" stroke-width="0.9"/>
<line x1="210.60" y1="693.80" x2="330.30" y2="693.80" stroke="#777" stroke-width="0.9"/>
<line x1="209.20" y1="693.80" x2="211.00" y2="693.80" stroke="#777" stroke-width="0.9"/>
<text x="208.20" y="697.30" font-size="10.5" text-anchor="end" fill="#111">0.0</text>
<line x1="209.20" y1="677.34" x2="211.00" y2="677.34" stroke="#777" stroke-width="0.9"/>
<text x="208.20" y="680.84" font-size="10.5" text-anchor="end" fill="#111">0.2</text>
<line x1="209.20" y1="660.88" x2="211.00" y2="660.88" stroke="#777" stroke-width="0.9"/>
<text x="208.20" y="664.38" font-size="10.5" text-anchor="end" fill="#111">0.4</text>
<line x1="209.20" y1="644.42" x2="211.00" y2="644.42" stroke="#777" stroke-width="0.9"/>
<text x="208.20" y="647.92" font-size="10.5" text-anchor="end" fill="#111">0.6</text>
<line x1="209.20" y1="627.96" x2="211.00" y2="627.96" stroke="#777" stroke-width="0.9"/>
<text x="208.20" y="631.46" font-size="10.5" text-anchor="end" fill="#111">0.8</text>
<line x1="209.20" y1="611.50" x2="211.00" y2="611.50" stroke="#777" stroke-width="0.9"/>
<text x="208.20" y="615.00" font-size="10.5" text-anchor="end" fill="#111">1.0</text>
<line x1="211.00" y1="693.80" x2="211.00" y2="695.80" stroke="#777" stroke-width="0.9"/>
<text x="211.00" y="706.90" font-size="10.5" text-anchor="middle" fill="#111">0.5</text>
<line x1="234.86" y1="693.80" x2="234.86" y2="695.80" stroke="#777" stroke-width="0.9"/>
<text x="234.86" y="706.90" font-size="10.5" text-anchor="middle" fill="#111">0.6</text>
<line x1="258.72" y1="693.80" x2="258.72" y2="695.80" stroke="#777" stroke-width="0.9"/>
<text x="258.72" y="706.90" font-size="10.5" text-anchor="middle" fill="#111">0.7</text>
<line x1="282.58" y1="693.80" x2="282.58" y2="695.80" stroke="#777" stroke-width="0.9"/>
<text x="282.58" y="706.90" font-size="10.5" text-anchor="middle" fill="#111">0.8</text>
<line x1="306.44" y1="693.80" x2="306.44" y2="695.80" stroke="#777" stroke-width="0.9"/>
<text x="306.44" y="706.90" font-size="10.5" text-anchor="middle" fill="#111">0.9</text>
<line x1="330.30" y1="693.80" x2="330.30" y2="695.80" stroke="#777" stroke-width="0.9"/>
<text x="330.30" y="706.90" font-size="10.5" text-anchor="middle" fill="#111">1.0</text>
<circle cx="239.6" cy="637.0" r="1.8" fill="#111"/>
<circle cx="251.6" cy="644.4" r="1.8" fill="#111"/>
<circle cx="270.6" cy="655.1" r="1.8" fill="#111"/>
<circle cx="292.1" cy="664.2" r="1.8" fill="#111"/>
<circle cx="323.1" cy="686.4" r="1.8" fill="#111"/>
<text x="270.55" y="719.00" font-size="11.05" text-anchor="middle" fill="#111">Fraction Affected</text>
<text x="189.60" y="649.65" font-size="11.3" text-anchor="middle" fill="#111" transform="rotate(-90 189.60 649.65)">Combination Index</text>
<text x="604.00" y="594.40" font-size="13" text-anchor="middle" fill="#111">H1299</text>
<line x1="544.20" y1="611.50" x2="660.70" y2="611.50" stroke="#777" stroke-width="0.8" stroke-dasharray="0.9 0.9"/>
<line x1="544.20" y1="652.65" x2="660.70" y2="652.65" stroke="#333" stroke-width="0.8" stroke-dasharray="0.9 0.9"/>
<line x1="544.20" y1="611.20" x2="544.20" y2="694.20" stroke="#777" stroke-width="0.9"/>
<line x1="543.80" y1="693.80" x2="663.30" y2="693.80" stroke="#777" stroke-width="0.9"/>
<line x1="542.40" y1="693.80" x2="544.20" y2="693.80" stroke="#777" stroke-width="0.9"/>
<text x="541.40" y="697.30" font-size="10.5" text-anchor="end" fill="#111">0.0</text>
<line x1="542.40" y1="677.34" x2="544.20" y2="677.34" stroke="#777" stroke-width="0.9"/>
<text x="541.40" y="680.84" font-size="10.5" text-anchor="end" fill="#111">0.2</text>
<line x1="542.40" y1="660.88" x2="544.20" y2="660.88" stroke="#777" stroke-width="0.9"/>
<text x="541.40" y="664.38" font-size="10.5" text-anchor="end" fill="#111">0.4</text>
<line x1="542.40" y1="644.42" x2="544.20" y2="644.42" stroke="#777" stroke-width="0.9"/>
<text x="541.40" y="647.92" font-size="10.5" text-anchor="end" fill="#111">0.6</text>
<line x1="542.40" y1="627.96" x2="544.20" y2="627.96" stroke="#777" stroke-width="0.9"/>
<text x="541.40" y="631.46" font-size="10.5" text-anchor="end" fill="#111">0.8</text>
<line x1="542.40" y1="611.50" x2="544.20" y2="611.50" stroke="#777" stroke-width="0.9"/>
<text x="541.40" y="615.00" font-size="10.5" text-anchor="end" fill="#111">1.0</text>
<line x1="544.20" y1="693.80" x2="544.20" y2="695.80" stroke="#777" stroke-width="0.9"/>
<text x="544.20" y="706.90" font-size="10.5" text-anchor="middle" fill="#111">0.5</text>
<line x1="568.02" y1="693.80" x2="568.02" y2="695.80" stroke="#777" stroke-width="0.9"/>
<text x="568.02" y="706.90" font-size="10.5" text-anchor="middle" fill="#111">0.6</text>
<line x1="591.84" y1="693.80" x2="591.84" y2="695.80" stroke="#777" stroke-width="0.9"/>
<text x="591.84" y="706.90" font-size="10.5" text-anchor="middle" fill="#111">0.7</text>
<line x1="615.66" y1="693.80" x2="615.66" y2="695.80" stroke="#777" stroke-width="0.9"/>
<text x="615.66" y="706.90" font-size="10.5" text-anchor="middle" fill="#111">0.8</text>
<line x1="639.48" y1="693.80" x2="639.48" y2="695.80" stroke="#777" stroke-width="0.9"/>
<text x="639.48" y="706.90" font-size="10.5" text-anchor="middle" fill="#111">0.9</text>
<line x1="663.30" y1="693.80" x2="663.30" y2="695.80" stroke="#777" stroke-width="0.9"/>
<text x="663.30" y="706.90" font-size="10.5" text-anchor="middle" fill="#111">1.0</text>
<circle cx="575.2" cy="634.5" r="1.8" fill="#111"/>
<circle cx="606.1" cy="652.6" r="1.8" fill="#111"/>
<circle cx="615.7" cy="652.6" r="1.8" fill="#111"/>
<circle cx="627.6" cy="654.7" r="1.8" fill="#111"/>
<circle cx="644.2" cy="666.6" r="1.8" fill="#111"/>
<text x="603.65" y="719.00" font-size="11.05" text-anchor="middle" fill="#111">Fraction Affected</text>
<text x="522.00" y="649.65" font-size="11.3" text-anchor="middle" fill="#111" transform="rotate(-90 522.00 649.65)">Combination Index</text>
</svg></body></html>
